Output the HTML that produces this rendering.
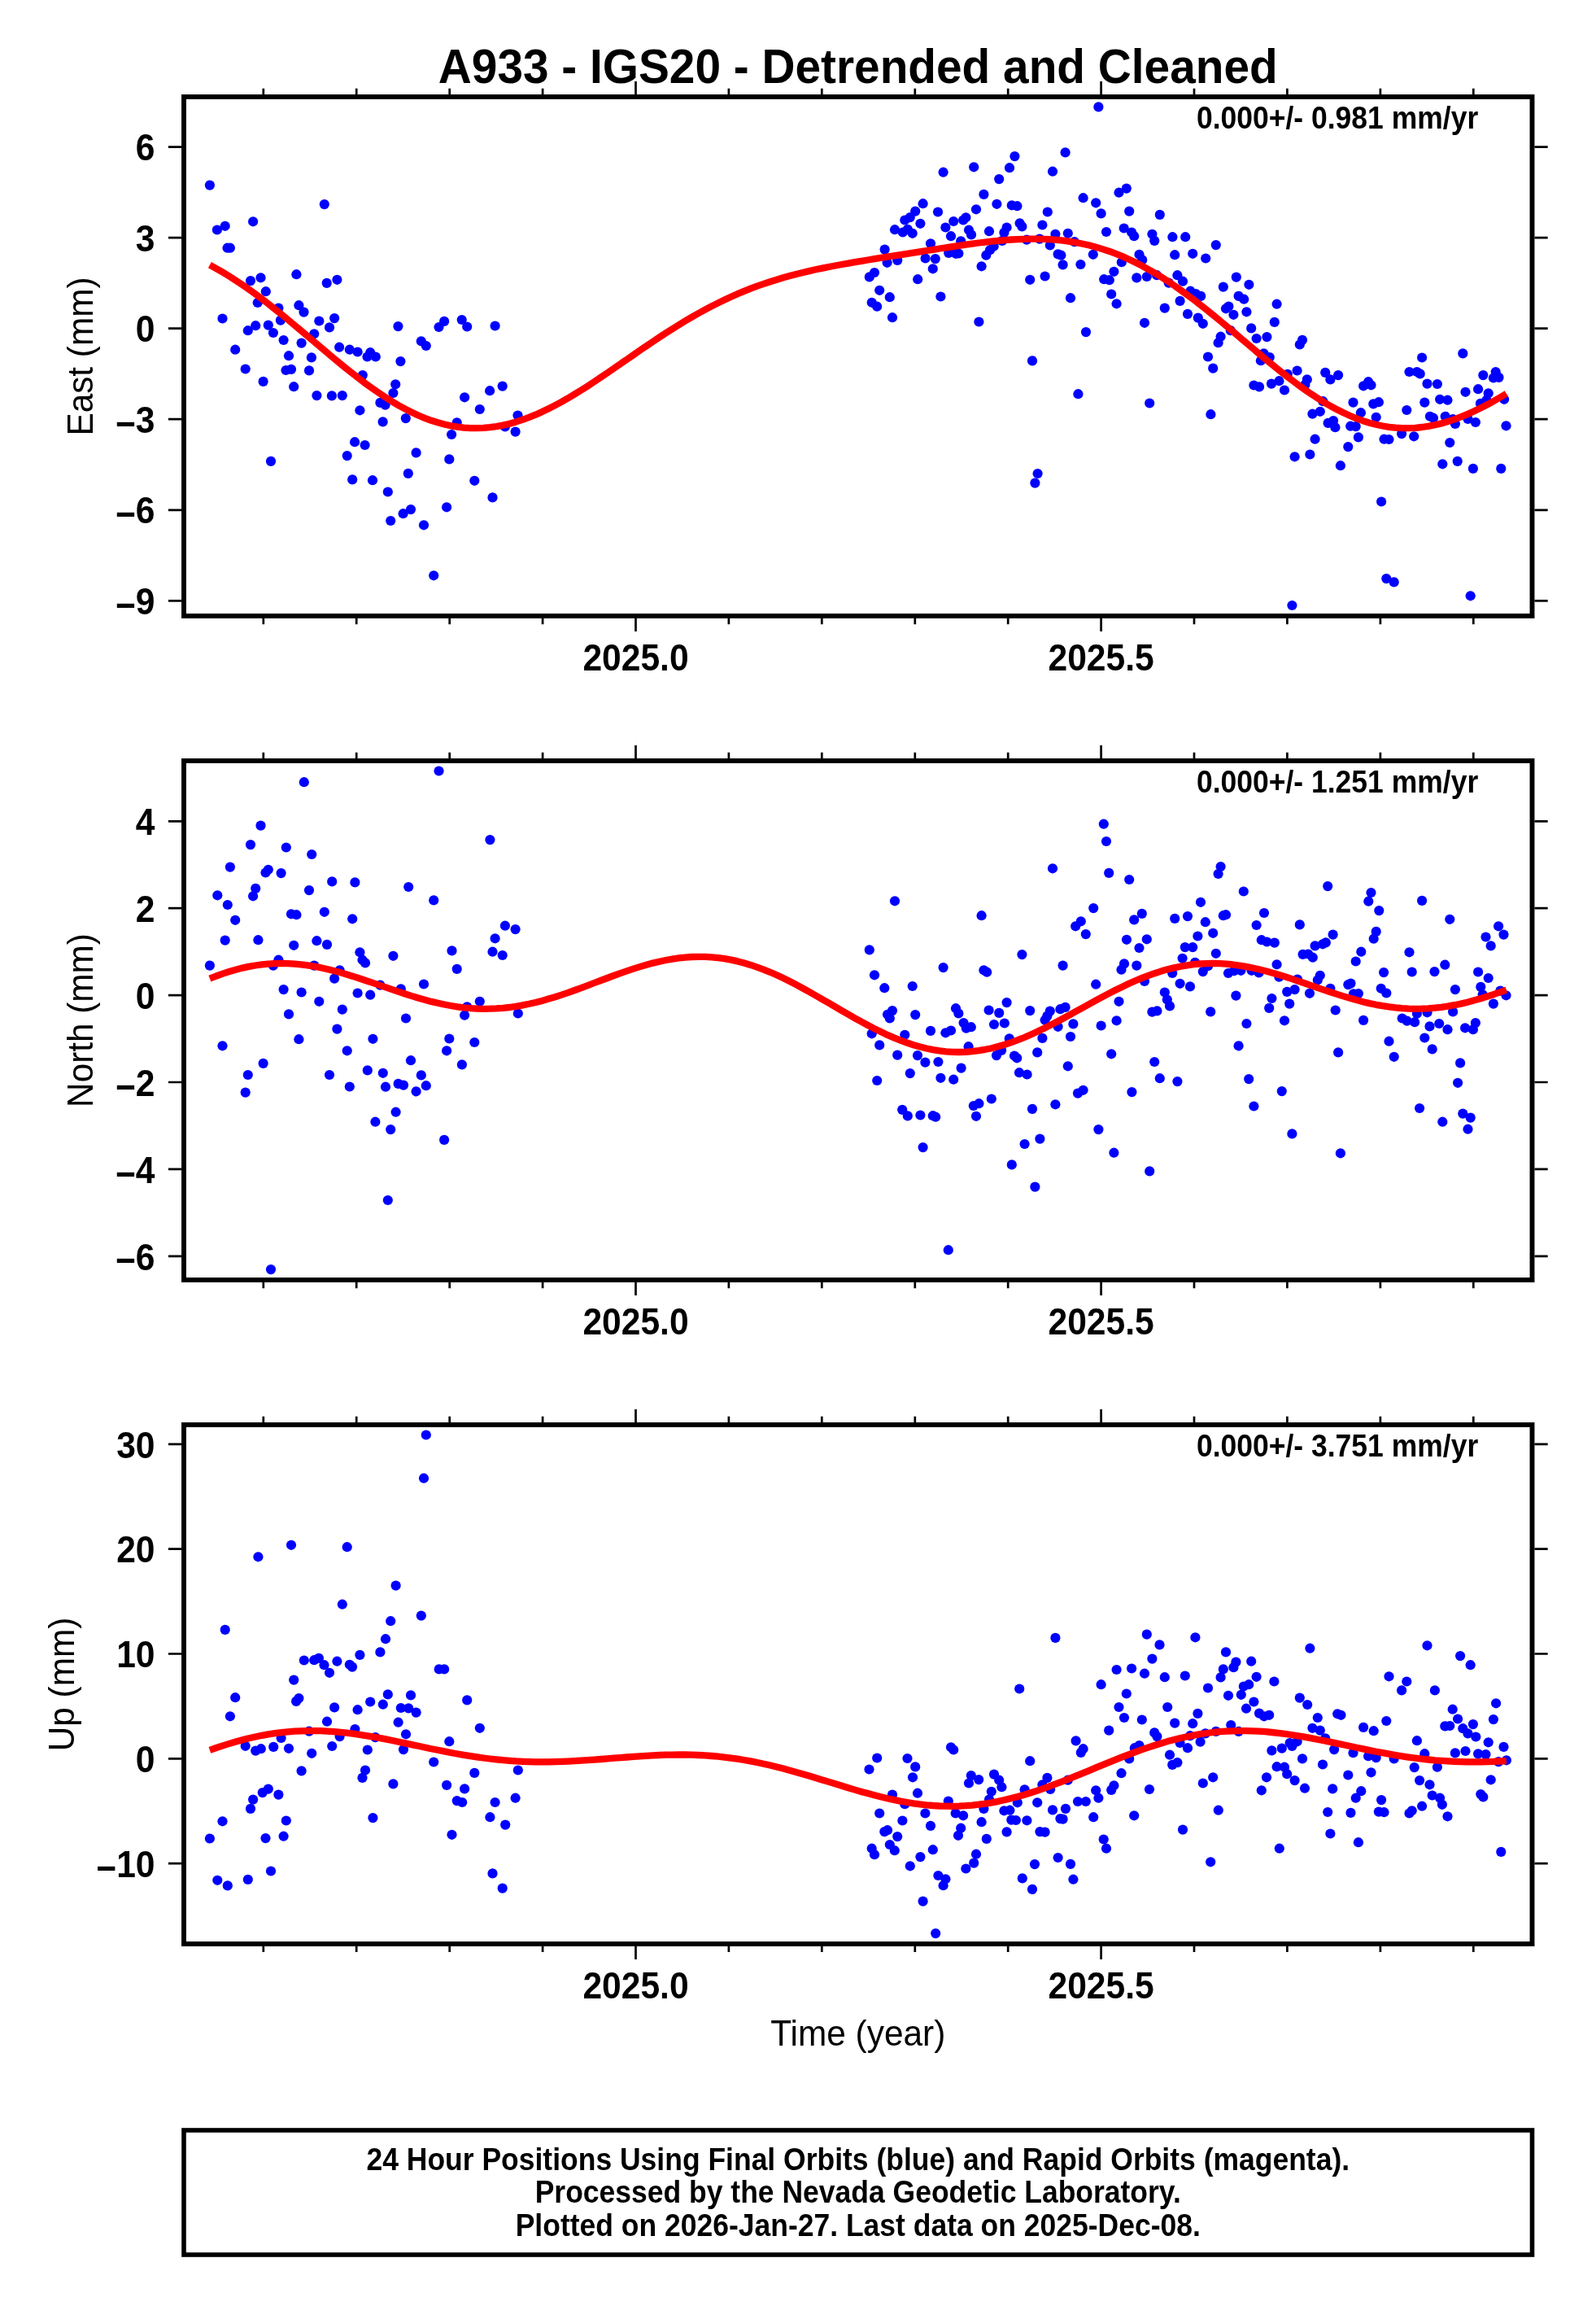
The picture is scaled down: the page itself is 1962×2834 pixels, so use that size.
<!DOCTYPE html><html><head><meta charset="utf-8"><style>html,body{margin:0;padding:0;background:#fff;overflow:hidden;}svg{display:block;will-change:transform;}text{font-family:"Liberation Sans",sans-serif;}</style></head><body>
<svg width="1962" height="2834" viewBox="0 0 1962 2834">
<rect x="0" y="0" width="1962" height="2834" fill="#fff"/>
<text transform="translate(1054.75,102.00) scale(1,1.03)" font-size="56.8" font-weight="bold" text-anchor="middle">A933 - IGS20 - Detrended and Cleaned</text>
<g><circle cx="257.9" cy="227.6" r="6.1" fill="#00f"/><circle cx="398.8" cy="251.1" r="6.1" fill="#00f"/><circle cx="311.1" cy="272.3" r="6.1" fill="#00f"/><circle cx="276.7" cy="277.8" r="6.1" fill="#00f"/><circle cx="266.9" cy="282.5" r="6.1" fill="#00f"/><circle cx="279.5" cy="304.7" r="6.1" fill="#00f"/><circle cx="282.9" cy="304.7" r="6.1" fill="#00f"/><circle cx="364.4" cy="337.2" r="6.1" fill="#00f"/><circle cx="320.5" cy="341.3" r="6.1" fill="#00f"/><circle cx="308.0" cy="345.1" r="6.1" fill="#00f"/><circle cx="414.4" cy="343.8" r="6.1" fill="#00f"/><circle cx="401.7" cy="347.9" r="6.1" fill="#00f"/><circle cx="326.8" cy="358.2" r="6.1" fill="#00f"/><circle cx="316.7" cy="372.0" r="6.1" fill="#00f"/><circle cx="342.4" cy="378.5" r="6.1" fill="#00f"/><circle cx="367.4" cy="375.2" r="6.1" fill="#00f"/><circle cx="373.5" cy="383.6" r="6.1" fill="#00f"/><circle cx="273.5" cy="391.5" r="6.1" fill="#00f"/><circle cx="344.9" cy="393.6" r="6.1" fill="#00f"/><circle cx="392.3" cy="394.5" r="6.1" fill="#00f"/><circle cx="411.1" cy="391.1" r="6.1" fill="#00f"/><circle cx="314.2" cy="400.2" r="6.1" fill="#00f"/><circle cx="304.8" cy="406.2" r="6.1" fill="#00f"/><circle cx="329.8" cy="399.6" r="6.1" fill="#00f"/><circle cx="335.9" cy="409.0" r="6.1" fill="#00f"/><circle cx="405.0" cy="402.4" r="6.1" fill="#00f"/><circle cx="348.6" cy="418.0" r="6.1" fill="#00f"/><circle cx="386.2" cy="410.3" r="6.1" fill="#00f"/><circle cx="370.6" cy="421.6" r="6.1" fill="#00f"/><circle cx="489.4" cy="401.1" r="6.1" fill="#00f"/><circle cx="517.8" cy="419.3" r="6.1" fill="#00f"/><circle cx="523.8" cy="425.0" r="6.1" fill="#00f"/><circle cx="289.2" cy="429.7" r="6.1" fill="#00f"/><circle cx="417.1" cy="426.7" r="6.1" fill="#00f"/><circle cx="429.8" cy="429.7" r="6.1" fill="#00f"/><circle cx="439.6" cy="432.5" r="6.1" fill="#00f"/><circle cx="455.2" cy="433.2" r="6.1" fill="#00f"/><circle cx="451.5" cy="438.5" r="6.1" fill="#00f"/><circle cx="461.8" cy="438.5" r="6.1" fill="#00f"/><circle cx="492.4" cy="444.1" r="6.1" fill="#00f"/><circle cx="355.0" cy="437.2" r="6.1" fill="#00f"/><circle cx="382.9" cy="439.4" r="6.1" fill="#00f"/><circle cx="301.7" cy="453.5" r="6.1" fill="#00f"/><circle cx="351.5" cy="455.0" r="6.1" fill="#00f"/><circle cx="358.0" cy="453.9" r="6.1" fill="#00f"/><circle cx="380.0" cy="455.4" r="6.1" fill="#00f"/><circle cx="445.8" cy="461.1" r="6.1" fill="#00f"/><circle cx="323.6" cy="468.9" r="6.1" fill="#00f"/><circle cx="361.2" cy="475.2" r="6.1" fill="#00f"/><circle cx="486.2" cy="472.3" r="6.1" fill="#00f"/><circle cx="483.4" cy="483.0" r="6.1" fill="#00f"/><circle cx="389.4" cy="486.1" r="6.1" fill="#00f"/><circle cx="407.9" cy="486.4" r="6.1" fill="#00f"/><circle cx="420.8" cy="486.1" r="6.1" fill="#00f"/><circle cx="467.4" cy="494.9" r="6.1" fill="#00f"/><circle cx="473.6" cy="497.7" r="6.1" fill="#00f"/><circle cx="442.4" cy="504.3" r="6.1" fill="#00f"/><circle cx="470.6" cy="518.4" r="6.1" fill="#00f"/><circle cx="498.8" cy="514.1" r="6.1" fill="#00f"/><circle cx="436.1" cy="543.2" r="6.1" fill="#00f"/><circle cx="448.6" cy="547.0" r="6.1" fill="#00f"/><circle cx="426.7" cy="560.1" r="6.1" fill="#00f"/><circle cx="511.6" cy="556.4" r="6.1" fill="#00f"/><circle cx="333.0" cy="566.9" r="6.1" fill="#00f"/><circle cx="433.2" cy="589.4" r="6.1" fill="#00f"/><circle cx="458.0" cy="590.2" r="6.1" fill="#00f"/><circle cx="501.8" cy="581.9" r="6.1" fill="#00f"/><circle cx="476.8" cy="604.5" r="6.1" fill="#00f"/><circle cx="505.0" cy="626.1" r="6.1" fill="#00f"/><circle cx="495.6" cy="631.2" r="6.1" fill="#00f"/><circle cx="480.2" cy="640.0" r="6.1" fill="#00f"/><circle cx="521.0" cy="645.3" r="6.1" fill="#00f"/><circle cx="546.1" cy="394.9" r="6.1" fill="#00f"/><circle cx="539.5" cy="402.0" r="6.1" fill="#00f"/><circle cx="567.7" cy="393.0" r="6.1" fill="#00f"/><circle cx="574.2" cy="401.5" r="6.1" fill="#00f"/><circle cx="608.6" cy="400.5" r="6.1" fill="#00f"/><circle cx="571.1" cy="488.3" r="6.1" fill="#00f"/><circle cx="602.1" cy="480.2" r="6.1" fill="#00f"/><circle cx="617.7" cy="474.6" r="6.1" fill="#00f"/><circle cx="589.8" cy="503.0" r="6.1" fill="#00f"/><circle cx="561.7" cy="519.3" r="6.1" fill="#00f"/><circle cx="555.1" cy="534.0" r="6.1" fill="#00f"/><circle cx="636.5" cy="510.5" r="6.1" fill="#00f"/><circle cx="620.9" cy="524.4" r="6.1" fill="#00f"/><circle cx="633.6" cy="530.6" r="6.1" fill="#00f"/><circle cx="552.3" cy="564.4" r="6.1" fill="#00f"/><circle cx="583.3" cy="590.8" r="6.1" fill="#00f"/><circle cx="605.5" cy="611.4" r="6.1" fill="#00f"/><circle cx="549.1" cy="623.3" r="6.1" fill="#00f"/><circle cx="533.2" cy="707.3" r="6.1" fill="#00f"/><circle cx="1350.4" cy="131.4" r="6.1" fill="#00f"/><circle cx="1309.6" cy="187.4" r="6.1" fill="#00f"/><circle cx="1247.4" cy="192.1" r="6.1" fill="#00f"/><circle cx="1241.0" cy="206.2" r="6.1" fill="#00f"/><circle cx="1197.2" cy="205.3" r="6.1" fill="#00f"/><circle cx="1159.6" cy="211.7" r="6.1" fill="#00f"/><circle cx="1294.0" cy="210.7" r="6.1" fill="#00f"/><circle cx="1228.2" cy="220.1" r="6.1" fill="#00f"/><circle cx="1209.4" cy="238.9" r="6.1" fill="#00f"/><circle cx="1225.4" cy="250.8" r="6.1" fill="#00f"/><circle cx="1243.8" cy="252.3" r="6.1" fill="#00f"/><circle cx="1250.4" cy="253.2" r="6.1" fill="#00f"/><circle cx="1331.6" cy="243.2" r="6.1" fill="#00f"/><circle cx="1347.2" cy="249.3" r="6.1" fill="#00f"/><circle cx="1353.6" cy="262.4" r="6.1" fill="#00f"/><circle cx="1287.8" cy="260.5" r="6.1" fill="#00f"/><circle cx="1200.0" cy="257.3" r="6.1" fill="#00f"/><circle cx="1134.6" cy="250.2" r="6.1" fill="#00f"/><circle cx="1125.2" cy="259.6" r="6.1" fill="#00f"/><circle cx="1118.8" cy="267.1" r="6.1" fill="#00f"/><circle cx="1112.3" cy="270.5" r="6.1" fill="#00f"/><circle cx="1131.4" cy="274.8" r="6.1" fill="#00f"/><circle cx="1100.0" cy="282.2" r="6.1" fill="#00f"/><circle cx="1109.8" cy="285.5" r="6.1" fill="#00f"/><circle cx="1115.8" cy="281.8" r="6.1" fill="#00f"/><circle cx="1121.7" cy="286.8" r="6.1" fill="#00f"/><circle cx="1153.0" cy="260.5" r="6.1" fill="#00f"/><circle cx="1187.4" cy="267.3" r="6.1" fill="#00f"/><circle cx="1184.1" cy="270.5" r="6.1" fill="#00f"/><circle cx="1172.2" cy="272.0" r="6.1" fill="#00f"/><circle cx="1162.4" cy="279.5" r="6.1" fill="#00f"/><circle cx="1169.0" cy="290.2" r="6.1" fill="#00f"/><circle cx="1191.0" cy="282.7" r="6.1" fill="#00f"/><circle cx="1194.0" cy="288.4" r="6.1" fill="#00f"/><circle cx="1181.2" cy="296.4" r="6.1" fill="#00f"/><circle cx="1216.0" cy="284.2" r="6.1" fill="#00f"/><circle cx="1237.6" cy="279.5" r="6.1" fill="#00f"/><circle cx="1234.4" cy="285.9" r="6.1" fill="#00f"/><circle cx="1253.6" cy="274.3" r="6.1" fill="#00f"/><circle cx="1256.4" cy="278.4" r="6.1" fill="#00f"/><circle cx="1281.4" cy="276.5" r="6.1" fill="#00f"/><circle cx="1297.4" cy="287.8" r="6.1" fill="#00f"/><circle cx="1312.8" cy="286.8" r="6.1" fill="#00f"/><circle cx="1144.0" cy="299.3" r="6.1" fill="#00f"/><circle cx="1087.6" cy="306.6" r="6.1" fill="#00f"/><circle cx="1262.1" cy="294.6" r="6.1" fill="#00f"/><circle cx="1278.0" cy="293.6" r="6.1" fill="#00f"/><circle cx="1232.0" cy="295.9" r="6.1" fill="#00f"/><circle cx="1320.9" cy="297.2" r="6.1" fill="#00f"/><circle cx="1290.8" cy="301.5" r="6.1" fill="#00f"/><circle cx="1221.7" cy="302.8" r="6.1" fill="#00f"/><circle cx="1217.0" cy="307.2" r="6.1" fill="#00f"/><circle cx="1212.3" cy="313.7" r="6.1" fill="#00f"/><circle cx="1166.2" cy="310.9" r="6.1" fill="#00f"/><circle cx="1175.0" cy="311.8" r="6.1" fill="#00f"/><circle cx="1178.4" cy="311.5" r="6.1" fill="#00f"/><circle cx="1137.6" cy="317.5" r="6.1" fill="#00f"/><circle cx="1149.8" cy="318.1" r="6.1" fill="#00f"/><circle cx="1090.6" cy="322.8" r="6.1" fill="#00f"/><circle cx="1103.2" cy="319.9" r="6.1" fill="#00f"/><circle cx="1343.8" cy="312.8" r="6.1" fill="#00f"/><circle cx="1300.6" cy="312.4" r="6.1" fill="#00f"/><circle cx="1304.4" cy="313.7" r="6.1" fill="#00f"/><circle cx="1306.6" cy="325.4" r="6.1" fill="#00f"/><circle cx="1328.4" cy="325.0" r="6.1" fill="#00f"/><circle cx="1206.6" cy="327.3" r="6.1" fill="#00f"/><circle cx="1146.8" cy="330.3" r="6.1" fill="#00f"/><circle cx="1075.0" cy="335.0" r="6.1" fill="#00f"/><circle cx="1068.8" cy="340.4" r="6.1" fill="#00f"/><circle cx="1128.2" cy="343.2" r="6.1" fill="#00f"/><circle cx="1266.2" cy="343.8" r="6.1" fill="#00f"/><circle cx="1284.6" cy="339.5" r="6.1" fill="#00f"/><circle cx="1384.8" cy="231.6" r="6.1" fill="#00f"/><circle cx="1375.5" cy="236.7" r="6.1" fill="#00f"/><circle cx="1388.2" cy="259.6" r="6.1" fill="#00f"/><circle cx="1425.8" cy="263.9" r="6.1" fill="#00f"/><circle cx="1360.0" cy="285.0" r="6.1" fill="#00f"/><circle cx="1381.7" cy="280.5" r="6.1" fill="#00f"/><circle cx="1391.1" cy="285.5" r="6.1" fill="#00f"/><circle cx="1394.2" cy="290.2" r="6.1" fill="#00f"/><circle cx="1416.4" cy="287.8" r="6.1" fill="#00f"/><circle cx="1419.2" cy="295.9" r="6.1" fill="#00f"/><circle cx="1441.4" cy="291.2" r="6.1" fill="#00f"/><circle cx="1457.2" cy="291.2" r="6.1" fill="#00f"/><circle cx="1494.8" cy="301.1" r="6.1" fill="#00f"/><circle cx="1400.5" cy="312.8" r="6.1" fill="#00f"/><circle cx="1404.2" cy="319.4" r="6.1" fill="#00f"/><circle cx="1444.2" cy="313.2" r="6.1" fill="#00f"/><circle cx="1466.2" cy="311.8" r="6.1" fill="#00f"/><circle cx="1482.2" cy="317.5" r="6.1" fill="#00f"/><circle cx="1378.8" cy="322.2" r="6.1" fill="#00f"/><circle cx="1369.4" cy="333.8" r="6.1" fill="#00f"/><circle cx="1357.2" cy="343.2" r="6.1" fill="#00f"/><circle cx="1363.8" cy="344.2" r="6.1" fill="#00f"/><circle cx="1397.3" cy="341.4" r="6.1" fill="#00f"/><circle cx="1409.8" cy="340.0" r="6.1" fill="#00f"/><circle cx="1422.1" cy="338.2" r="6.1" fill="#00f"/><circle cx="1436.7" cy="347.6" r="6.1" fill="#00f"/><circle cx="1447.4" cy="338.2" r="6.1" fill="#00f"/><circle cx="1454.0" cy="345.7" r="6.1" fill="#00f"/><circle cx="1519.8" cy="340.6" r="6.1" fill="#00f"/><circle cx="1535.4" cy="349.8" r="6.1" fill="#00f"/><circle cx="1503.8" cy="352.6" r="6.1" fill="#00f"/><circle cx="1081.2" cy="356.8" r="6.1" fill="#00f"/><circle cx="1093.8" cy="365.2" r="6.1" fill="#00f"/><circle cx="1071.7" cy="371.8" r="6.1" fill="#00f"/><circle cx="1078.2" cy="376.7" r="6.1" fill="#00f"/><circle cx="1097.0" cy="390.2" r="6.1" fill="#00f"/><circle cx="1156.4" cy="364.5" r="6.1" fill="#00f"/><circle cx="1203.4" cy="395.5" r="6.1" fill="#00f"/><circle cx="1316.0" cy="366.2" r="6.1" fill="#00f"/><circle cx="1335.0" cy="408.1" r="6.1" fill="#00f"/><circle cx="1269.0" cy="443.4" r="6.1" fill="#00f"/><circle cx="1325.4" cy="484.2" r="6.1" fill="#00f"/><circle cx="1275.6" cy="582.0" r="6.1" fill="#00f"/><circle cx="1366.2" cy="361.5" r="6.1" fill="#00f"/><circle cx="1372.6" cy="373.3" r="6.1" fill="#00f"/><circle cx="1431.8" cy="378.6" r="6.1" fill="#00f"/><circle cx="1407.0" cy="396.8" r="6.1" fill="#00f"/><circle cx="1450.6" cy="369.9" r="6.1" fill="#00f"/><circle cx="1463.4" cy="357.7" r="6.1" fill="#00f"/><circle cx="1470.0" cy="361.1" r="6.1" fill="#00f"/><circle cx="1476.2" cy="363.9" r="6.1" fill="#00f"/><circle cx="1460.0" cy="385.9" r="6.1" fill="#00f"/><circle cx="1472.8" cy="390.6" r="6.1" fill="#00f"/><circle cx="1478.8" cy="397.8" r="6.1" fill="#00f"/><circle cx="1522.6" cy="363.9" r="6.1" fill="#00f"/><circle cx="1529.2" cy="367.7" r="6.1" fill="#00f"/><circle cx="1507.0" cy="379.3" r="6.1" fill="#00f"/><circle cx="1510.4" cy="376.5" r="6.1" fill="#00f"/><circle cx="1516.4" cy="386.8" r="6.1" fill="#00f"/><circle cx="1532.4" cy="383.3" r="6.1" fill="#00f"/><circle cx="1569.6" cy="373.7" r="6.1" fill="#00f"/><circle cx="1566.8" cy="395.9" r="6.1" fill="#00f"/><circle cx="1538.2" cy="403.4" r="6.1" fill="#00f"/><circle cx="1544.6" cy="416.0" r="6.1" fill="#00f"/><circle cx="1557.4" cy="414.1" r="6.1" fill="#00f"/><circle cx="1512.9" cy="406.2" r="6.1" fill="#00f"/><circle cx="1500.6" cy="413.7" r="6.1" fill="#00f"/><circle cx="1497.6" cy="421.2" r="6.1" fill="#00f"/><circle cx="1485.0" cy="438.5" r="6.1" fill="#00f"/><circle cx="1491.2" cy="452.6" r="6.1" fill="#00f"/><circle cx="1553.6" cy="434.4" r="6.1" fill="#00f"/><circle cx="1560.8" cy="439.1" r="6.1" fill="#00f"/><circle cx="1549.9" cy="443.2" r="6.1" fill="#00f"/><circle cx="1601.0" cy="417.9" r="6.1" fill="#00f"/><circle cx="1597.8" cy="423.5" r="6.1" fill="#00f"/><circle cx="1594.6" cy="455.5" r="6.1" fill="#00f"/><circle cx="1582.8" cy="459.8" r="6.1" fill="#00f"/><circle cx="1606.8" cy="466.4" r="6.1" fill="#00f"/><circle cx="1604.4" cy="472.9" r="6.1" fill="#00f"/><circle cx="1572.4" cy="468.2" r="6.1" fill="#00f"/><circle cx="1563.0" cy="471.6" r="6.1" fill="#00f"/><circle cx="1579.0" cy="479.5" r="6.1" fill="#00f"/><circle cx="1541.4" cy="473.5" r="6.1" fill="#00f"/><circle cx="1548.0" cy="475.4" r="6.1" fill="#00f"/><circle cx="1629.2" cy="457.9" r="6.1" fill="#00f"/><circle cx="1635.4" cy="466.4" r="6.1" fill="#00f"/><circle cx="1626.4" cy="493.2" r="6.1" fill="#00f"/><circle cx="1613.4" cy="508.7" r="6.1" fill="#00f"/><circle cx="1622.8" cy="505.8" r="6.1" fill="#00f"/><circle cx="1632.6" cy="519.9" r="6.1" fill="#00f"/><circle cx="1413.2" cy="495.5" r="6.1" fill="#00f"/><circle cx="1488.4" cy="509.2" r="6.1" fill="#00f"/><circle cx="1616.6" cy="539.7" r="6.1" fill="#00f"/><circle cx="1591.6" cy="561.3" r="6.1" fill="#00f"/><circle cx="1610.4" cy="558.5" r="6.1" fill="#00f"/><circle cx="1645.1" cy="461.1" r="6.1" fill="#00f"/><circle cx="1639.1" cy="517.1" r="6.1" fill="#00f"/><circle cx="1641.4" cy="525.2" r="6.1" fill="#00f"/><circle cx="1647.9" cy="572.2" r="6.1" fill="#00f"/><circle cx="1663.5" cy="494.6" r="6.1" fill="#00f"/><circle cx="1672.9" cy="507.2" r="6.1" fill="#00f"/><circle cx="1676.1" cy="474.3" r="6.1" fill="#00f"/><circle cx="1682.1" cy="469.2" r="6.1" fill="#00f"/><circle cx="1685.5" cy="473.3" r="6.1" fill="#00f"/><circle cx="1688.3" cy="496.4" r="6.1" fill="#00f"/><circle cx="1694.9" cy="494.2" r="6.1" fill="#00f"/><circle cx="1691.7" cy="512.8" r="6.1" fill="#00f"/><circle cx="1660.2" cy="523.7" r="6.1" fill="#00f"/><circle cx="1666.7" cy="524.1" r="6.1" fill="#00f"/><circle cx="1669.9" cy="537.4" r="6.1" fill="#00f"/><circle cx="1657.3" cy="549.1" r="6.1" fill="#00f"/><circle cx="1701.5" cy="539.7" r="6.1" fill="#00f"/><circle cx="1707.5" cy="540.0" r="6.1" fill="#00f"/><circle cx="1723.1" cy="533.1" r="6.1" fill="#00f"/><circle cx="1738.2" cy="536.3" r="6.1" fill="#00f"/><circle cx="1729.3" cy="504.0" r="6.1" fill="#00f"/><circle cx="1732.5" cy="457.0" r="6.1" fill="#00f"/><circle cx="1741.9" cy="457.0" r="6.1" fill="#00f"/><circle cx="1745.7" cy="459.4" r="6.1" fill="#00f"/><circle cx="1748.1" cy="439.5" r="6.1" fill="#00f"/><circle cx="1754.5" cy="471.6" r="6.1" fill="#00f"/><circle cx="1766.9" cy="472.0" r="6.1" fill="#00f"/><circle cx="1751.3" cy="494.6" r="6.1" fill="#00f"/><circle cx="1770.1" cy="490.8" r="6.1" fill="#00f"/><circle cx="1779.5" cy="491.7" r="6.1" fill="#00f"/><circle cx="1757.9" cy="511.8" r="6.1" fill="#00f"/><circle cx="1762.0" cy="513.7" r="6.1" fill="#00f"/><circle cx="1776.7" cy="511.8" r="6.1" fill="#00f"/><circle cx="1786.1" cy="515.2" r="6.1" fill="#00f"/><circle cx="1788.9" cy="520.9" r="6.1" fill="#00f"/><circle cx="1798.3" cy="434.4" r="6.1" fill="#00f"/><circle cx="1801.5" cy="481.8" r="6.1" fill="#00f"/><circle cx="1817.1" cy="478.2" r="6.1" fill="#00f"/><circle cx="1823.3" cy="461.1" r="6.1" fill="#00f"/><circle cx="1838.7" cy="457.0" r="6.1" fill="#00f"/><circle cx="1835.9" cy="464.5" r="6.1" fill="#00f"/><circle cx="1842.5" cy="463.9" r="6.1" fill="#00f"/><circle cx="1829.7" cy="483.3" r="6.1" fill="#00f"/><circle cx="1819.9" cy="495.9" r="6.1" fill="#00f"/><circle cx="1827.4" cy="491.7" r="6.1" fill="#00f"/><circle cx="1849.1" cy="490.8" r="6.1" fill="#00f"/><circle cx="1804.5" cy="514.9" r="6.1" fill="#00f"/><circle cx="1813.9" cy="519.0" r="6.1" fill="#00f"/><circle cx="1851.5" cy="523.3" r="6.1" fill="#00f"/><circle cx="1782.3" cy="544.0" r="6.1" fill="#00f"/><circle cx="1773.3" cy="570.3" r="6.1" fill="#00f"/><circle cx="1791.7" cy="566.9" r="6.1" fill="#00f"/><circle cx="1810.9" cy="575.9" r="6.1" fill="#00f"/><circle cx="1845.3" cy="575.9" r="6.1" fill="#00f"/><circle cx="1272.4" cy="593.6" r="6.1" fill="#00f"/><circle cx="1588.4" cy="744.0" r="6.1" fill="#00f"/><circle cx="1698.1" cy="616.5" r="6.1" fill="#00f"/><circle cx="1704.3" cy="711.1" r="6.1" fill="#00f"/><circle cx="1713.7" cy="715.4" r="6.1" fill="#00f"/><circle cx="1807.7" cy="732.3" r="6.1" fill="#00f"/><path d="M257.9,325.7 L265.9,330.1 L273.9,334.7 L281.9,339.5 L289.9,344.7 L298.0,350.0 L306.0,355.6 L314.0,361.4 L322.0,367.4 L330.0,373.5 L338.0,379.9 L346.0,386.3 L354.0,392.9 L362.0,399.6 L370.0,406.3 L378.1,413.1 L386.1,419.9 L394.1,426.7 L402.1,433.4 L410.1,440.1 L418.1,446.8 L426.1,453.3 L434.1,459.6 L442.1,465.8 L450.1,471.9 L458.2,477.7 L466.2,483.2 L474.2,488.5 L482.2,493.6 L490.2,498.3 L498.2,502.7 L506.2,506.7 L514.2,510.5 L522.2,513.8 L530.2,516.8 L538.3,519.3 L546.3,521.5 L554.3,523.3 L562.3,524.6 L570.3,525.6 L578.3,526.1 L586.3,526.2 L594.3,525.9 L602.3,525.2 L610.3,524.1 L618.4,522.6 L626.4,520.7 L634.4,518.4 L642.4,515.8 L650.4,512.9 L658.4,509.7 L666.4,506.1 L674.4,502.2 L682.4,498.1 L690.4,493.8 L698.5,489.2 L706.5,484.4 L714.5,479.5 L722.5,474.4 L730.5,469.1 L738.5,463.8 L746.5,458.4 L754.5,452.9 L762.5,447.3 L770.5,441.8 L778.6,436.3 L786.6,430.7 L794.6,425.3 L802.6,419.9 L810.6,414.5 L818.6,409.3 L826.6,404.2 L834.6,399.2 L842.6,394.3 L850.6,389.6 L858.7,385.0 L866.7,380.6 L874.7,376.4 L882.7,372.4 L890.7,368.5 L898.7,364.8 L906.7,361.2 L914.7,357.9 L922.7,354.7 L930.7,351.7 L938.8,348.9 L946.8,346.2 L954.8,343.7 L962.8,341.3 L970.8,339.1 L978.8,337.0 L986.8,335.0 L994.8,333.1 L1002.8,331.3 L1010.8,329.6 L1018.9,328.0 L1026.9,326.5 L1034.9,325.0 L1042.9,323.6 L1050.9,322.2 L1058.9,320.8 L1066.9,319.5 L1074.9,318.2 L1082.9,316.9 L1090.9,315.7 L1099.0,314.4 L1107.0,313.1 L1115.0,311.8 L1123.0,310.6 L1131.0,309.3 L1139.0,308.0 L1147.0,306.8 L1155.0,305.5 L1163.0,304.3 L1171.0,303.1 L1179.1,301.9 L1187.1,300.7 L1195.1,299.6 L1203.1,298.5 L1211.1,297.6 L1219.1,296.7 L1227.1,295.8 L1235.1,295.1 L1243.1,294.5 L1251.1,294.1 L1259.2,293.8 L1267.2,293.6 L1275.2,293.6 L1283.2,293.8 L1291.2,294.2 L1299.2,294.9 L1307.2,295.7 L1315.2,296.8 L1323.2,298.1 L1331.2,299.7 L1339.3,301.5 L1347.3,303.7 L1355.3,306.1 L1363.3,308.7 L1371.3,311.7 L1379.3,314.9 L1387.3,318.5 L1395.3,322.3 L1403.3,326.4 L1411.3,330.8 L1419.4,335.4 L1427.4,340.3 L1435.4,345.5 L1443.4,350.9 L1451.4,356.5 L1459.4,362.3 L1467.4,368.3 L1475.4,374.5 L1483.4,380.8 L1491.4,387.3 L1499.5,393.9 L1507.5,400.6 L1515.5,407.3 L1523.5,414.1 L1531.5,420.9 L1539.5,427.7 L1547.5,434.5 L1555.5,441.2 L1563.5,447.8 L1571.5,454.3 L1579.6,460.6 L1587.6,466.8 L1595.6,472.8 L1603.6,478.5 L1611.6,484.1 L1619.6,489.3 L1627.6,494.3 L1635.6,499.0 L1643.6,503.3 L1651.6,507.3 L1659.7,511.0 L1667.7,514.3 L1675.7,517.2 L1683.7,519.7 L1691.7,521.8 L1699.7,523.5 L1707.7,524.8 L1715.7,525.7 L1723.7,526.1 L1731.7,526.2 L1739.8,525.8 L1747.8,525.0 L1755.8,523.9 L1763.8,522.3 L1771.8,520.4 L1779.8,518.1 L1787.8,515.4 L1795.8,512.4 L1803.8,509.1 L1811.8,505.5 L1819.9,501.6 L1827.9,497.5 L1835.9,493.1 L1843.9,488.5 L1851.9,483.7" fill="none" stroke="#f00" stroke-width="8.3" stroke-linejoin="round" stroke-linecap="butt"/></g>
<rect x="226.0" y="119.0" width="1657.5" height="638.0" fill="none" stroke="#000" stroke-width="5.9"/>
<path d="M323.8,116.0V108.8M323.8,760.0V767.2M438.2,116.0V108.8M438.2,760.0V767.2M552.7,116.0V108.8M552.7,760.0V767.2M667.1,116.0V108.8M667.1,760.0V767.2M781.5,116.0V100.0M781.5,760.0V776.0M895.9,116.0V108.8M895.9,760.0V767.2M1010.3,116.0V108.8M1010.3,760.0V767.2M1124.8,116.0V108.8M1124.8,760.0V767.2M1239.2,116.0V108.8M1239.2,760.0V767.2M1353.6,116.0V100.0M1353.6,760.0V776.0M1468.0,116.0V108.8M1468.0,760.0V767.2M1582.4,116.0V108.8M1582.4,760.0V767.2M1696.9,116.0V108.8M1696.9,760.0V767.2M1811.3,116.0V108.8M1811.3,760.0V767.2M223.1,180.6H206.9M1886.5,180.6H1902.7M223.1,292.2H206.9M1886.5,292.2H1902.7M223.1,403.7H206.9M1886.5,403.7H1902.7M223.1,515.2H206.9M1886.5,515.2H1902.7M223.1,626.8H206.9M1886.5,626.8H1902.7M223.1,738.3H206.9M1886.5,738.3H1902.7" stroke="#000" stroke-width="2.7" fill="none"/>
<text transform="translate(190.50,197.32) scale(1,1.1)" font-size="42.6" font-weight="bold" text-anchor="end">6</text>
<text transform="translate(190.50,308.86) scale(1,1.1)" font-size="42.6" font-weight="bold" text-anchor="end">3</text>
<text transform="translate(190.50,420.40) scale(1,1.1)" font-size="42.6" font-weight="bold" text-anchor="end">0</text>
<text transform="translate(190.50,531.94) scale(1,1.1)" font-size="42.6" font-weight="bold" text-anchor="end"><tspan dy="4.5">−</tspan><tspan dy="-4.5">3</tspan></text>
<text transform="translate(190.50,643.48) scale(1,1.1)" font-size="42.6" font-weight="bold" text-anchor="end"><tspan dy="4.5">−</tspan><tspan dy="-4.5">6</tspan></text>
<text transform="translate(190.50,755.02) scale(1,1.1)" font-size="42.6" font-weight="bold" text-anchor="end"><tspan dy="4.5">−</tspan><tspan dy="-4.5">9</tspan></text>
<text transform="translate(781.50,823.60) scale(1,1.1)" font-size="42.6" font-weight="bold" text-anchor="middle">2025.0</text>
<text transform="translate(1353.60,823.60) scale(1,1.1)" font-size="42.6" font-weight="bold" text-anchor="middle">2025.5</text>
<text transform="translate(114.00,438.00) rotate(-90) scale(1,1.055)" font-size="42.3" text-anchor="middle">East (mm)</text>
<text transform="translate(1470.90,157.60) scale(1,1.11)" font-size="35.5" font-weight="bold">0.000+/- 0.981 mm/yr</text>
<g><circle cx="373.8" cy="961.2" r="6.1" fill="#00f"/><circle cx="320.5" cy="1014.6" r="6.1" fill="#00f"/><circle cx="308.0" cy="1038.1" r="6.1" fill="#00f"/><circle cx="351.8" cy="1041.5" r="6.1" fill="#00f"/><circle cx="383.2" cy="1050.0" r="6.1" fill="#00f"/><circle cx="282.9" cy="1065.6" r="6.1" fill="#00f"/><circle cx="326.5" cy="1072.5" r="6.1" fill="#00f"/><circle cx="329.8" cy="1068.8" r="6.1" fill="#00f"/><circle cx="345.6" cy="1073.1" r="6.1" fill="#00f"/><circle cx="408.2" cy="1083.4" r="6.1" fill="#00f"/><circle cx="436.4" cy="1084.4" r="6.1" fill="#00f"/><circle cx="502.2" cy="1090.0" r="6.1" fill="#00f"/><circle cx="533.2" cy="1106.4" r="6.1" fill="#00f"/><circle cx="314.2" cy="1091.9" r="6.1" fill="#00f"/><circle cx="311.1" cy="1101.3" r="6.1" fill="#00f"/><circle cx="267.3" cy="1100.3" r="6.1" fill="#00f"/><circle cx="380.0" cy="1094.1" r="6.1" fill="#00f"/><circle cx="279.8" cy="1112.0" r="6.1" fill="#00f"/><circle cx="358.0" cy="1123.3" r="6.1" fill="#00f"/><circle cx="364.4" cy="1124.2" r="6.1" fill="#00f"/><circle cx="398.8" cy="1120.8" r="6.1" fill="#00f"/><circle cx="433.2" cy="1129.3" r="6.1" fill="#00f"/><circle cx="289.2" cy="1130.8" r="6.1" fill="#00f"/><circle cx="276.7" cy="1155.6" r="6.1" fill="#00f"/><circle cx="317.4" cy="1155.2" r="6.1" fill="#00f"/><circle cx="361.2" cy="1161.8" r="6.1" fill="#00f"/><circle cx="389.4" cy="1156.2" r="6.1" fill="#00f"/><circle cx="402.0" cy="1160.9" r="6.1" fill="#00f"/><circle cx="442.4" cy="1170.3" r="6.1" fill="#00f"/><circle cx="483.4" cy="1174.8" r="6.1" fill="#00f"/><circle cx="445.5" cy="1179.7" r="6.1" fill="#00f"/><circle cx="449.0" cy="1183.4" r="6.1" fill="#00f"/><circle cx="257.9" cy="1186.6" r="6.1" fill="#00f"/><circle cx="342.4" cy="1179.7" r="6.1" fill="#00f"/><circle cx="335.9" cy="1186.6" r="6.1" fill="#00f"/><circle cx="386.2" cy="1186.6" r="6.1" fill="#00f"/><circle cx="417.6" cy="1192.3" r="6.1" fill="#00f"/><circle cx="411.1" cy="1202.6" r="6.1" fill="#00f"/><circle cx="467.4" cy="1210.7" r="6.1" fill="#00f"/><circle cx="492.8" cy="1215.4" r="6.1" fill="#00f"/><circle cx="521.0" cy="1209.5" r="6.1" fill="#00f"/><circle cx="348.6" cy="1216.1" r="6.1" fill="#00f"/><circle cx="370.6" cy="1219.5" r="6.1" fill="#00f"/><circle cx="392.3" cy="1230.8" r="6.1" fill="#00f"/><circle cx="439.6" cy="1220.5" r="6.1" fill="#00f"/><circle cx="455.2" cy="1222.7" r="6.1" fill="#00f"/><circle cx="420.8" cy="1240.6" r="6.1" fill="#00f"/><circle cx="355.0" cy="1246.4" r="6.1" fill="#00f"/><circle cx="499.0" cy="1251.5" r="6.1" fill="#00f"/><circle cx="414.4" cy="1264.6" r="6.1" fill="#00f"/><circle cx="367.4" cy="1277.2" r="6.1" fill="#00f"/><circle cx="458.4" cy="1276.8" r="6.1" fill="#00f"/><circle cx="273.5" cy="1285.3" r="6.1" fill="#00f"/><circle cx="426.7" cy="1291.3" r="6.1" fill="#00f"/><circle cx="505.0" cy="1303.2" r="6.1" fill="#00f"/><circle cx="323.6" cy="1306.9" r="6.1" fill="#00f"/><circle cx="304.8" cy="1321.0" r="6.1" fill="#00f"/><circle cx="405.0" cy="1321.0" r="6.1" fill="#00f"/><circle cx="451.8" cy="1315.4" r="6.1" fill="#00f"/><circle cx="470.8" cy="1318.8" r="6.1" fill="#00f"/><circle cx="517.8" cy="1321.4" r="6.1" fill="#00f"/><circle cx="429.8" cy="1335.5" r="6.1" fill="#00f"/><circle cx="474.0" cy="1335.7" r="6.1" fill="#00f"/><circle cx="489.6" cy="1331.9" r="6.1" fill="#00f"/><circle cx="496.0" cy="1333.6" r="6.1" fill="#00f"/><circle cx="523.8" cy="1334.2" r="6.1" fill="#00f"/><circle cx="511.6" cy="1341.3" r="6.1" fill="#00f"/><circle cx="301.7" cy="1342.6" r="6.1" fill="#00f"/><circle cx="486.6" cy="1366.7" r="6.1" fill="#00f"/><circle cx="461.4" cy="1378.7" r="6.1" fill="#00f"/><circle cx="480.2" cy="1388.1" r="6.1" fill="#00f"/><circle cx="476.8" cy="1475.0" r="6.1" fill="#00f"/><circle cx="333.0" cy="1560.1" r="6.1" fill="#00f"/><circle cx="539.5" cy="947.5" r="6.1" fill="#00f"/><circle cx="602.4" cy="1032.1" r="6.1" fill="#00f"/><circle cx="620.9" cy="1137.7" r="6.1" fill="#00f"/><circle cx="633.6" cy="1142.1" r="6.1" fill="#00f"/><circle cx="608.6" cy="1153.3" r="6.1" fill="#00f"/><circle cx="555.5" cy="1168.4" r="6.1" fill="#00f"/><circle cx="605.5" cy="1169.7" r="6.1" fill="#00f"/><circle cx="617.7" cy="1174.0" r="6.1" fill="#00f"/><circle cx="561.7" cy="1190.9" r="6.1" fill="#00f"/><circle cx="589.8" cy="1230.8" r="6.1" fill="#00f"/><circle cx="574.2" cy="1237.4" r="6.1" fill="#00f"/><circle cx="571.1" cy="1247.7" r="6.1" fill="#00f"/><circle cx="636.8" cy="1245.5" r="6.1" fill="#00f"/><circle cx="552.3" cy="1276.5" r="6.1" fill="#00f"/><circle cx="583.3" cy="1281.0" r="6.1" fill="#00f"/><circle cx="549.1" cy="1291.3" r="6.1" fill="#00f"/><circle cx="567.9" cy="1308.4" r="6.1" fill="#00f"/><circle cx="546.1" cy="1400.9" r="6.1" fill="#00f"/><circle cx="1294.0" cy="1067.3" r="6.1" fill="#00f"/><circle cx="1100.0" cy="1107.3" r="6.1" fill="#00f"/><circle cx="1206.6" cy="1125.2" r="6.1" fill="#00f"/><circle cx="1344.2" cy="1116.1" r="6.1" fill="#00f"/><circle cx="1328.8" cy="1132.3" r="6.1" fill="#00f"/><circle cx="1322.2" cy="1138.3" r="6.1" fill="#00f"/><circle cx="1334.8" cy="1148.1" r="6.1" fill="#00f"/><circle cx="1068.8" cy="1167.4" r="6.1" fill="#00f"/><circle cx="1256.4" cy="1173.1" r="6.1" fill="#00f"/><circle cx="1159.6" cy="1189.1" r="6.1" fill="#00f"/><circle cx="1075.0" cy="1198.3" r="6.1" fill="#00f"/><circle cx="1087.3" cy="1214.2" r="6.1" fill="#00f"/><circle cx="1121.7" cy="1212.0" r="6.1" fill="#00f"/><circle cx="1209.4" cy="1192.3" r="6.1" fill="#00f"/><circle cx="1213.2" cy="1194.7" r="6.1" fill="#00f"/><circle cx="1306.6" cy="1186.6" r="6.1" fill="#00f"/><circle cx="1347.2" cy="1209.7" r="6.1" fill="#00f"/><circle cx="1237.6" cy="1232.1" r="6.1" fill="#00f"/><circle cx="1097.0" cy="1242.1" r="6.1" fill="#00f"/><circle cx="1091.0" cy="1246.8" r="6.1" fill="#00f"/><circle cx="1093.8" cy="1251.5" r="6.1" fill="#00f"/><circle cx="1125.2" cy="1247.1" r="6.1" fill="#00f"/><circle cx="1175.0" cy="1239.2" r="6.1" fill="#00f"/><circle cx="1178.4" cy="1245.5" r="6.1" fill="#00f"/><circle cx="1215.6" cy="1241.5" r="6.1" fill="#00f"/><circle cx="1228.2" cy="1244.9" r="6.1" fill="#00f"/><circle cx="1266.2" cy="1242.1" r="6.1" fill="#00f"/><circle cx="1290.8" cy="1242.6" r="6.1" fill="#00f"/><circle cx="1287.4" cy="1248.6" r="6.1" fill="#00f"/><circle cx="1284.6" cy="1253.7" r="6.1" fill="#00f"/><circle cx="1303.4" cy="1240.2" r="6.1" fill="#00f"/><circle cx="1309.6" cy="1237.9" r="6.1" fill="#00f"/><circle cx="1222.0" cy="1259.0" r="6.1" fill="#00f"/><circle cx="1234.8" cy="1257.5" r="6.1" fill="#00f"/><circle cx="1184.6" cy="1257.1" r="6.1" fill="#00f"/><circle cx="1187.8" cy="1263.7" r="6.1" fill="#00f"/><circle cx="1193.8" cy="1262.2" r="6.1" fill="#00f"/><circle cx="1144.0" cy="1266.9" r="6.1" fill="#00f"/><circle cx="1162.4" cy="1269.3" r="6.1" fill="#00f"/><circle cx="1169.0" cy="1266.5" r="6.1" fill="#00f"/><circle cx="1112.3" cy="1271.8" r="6.1" fill="#00f"/><circle cx="1071.7" cy="1270.3" r="6.1" fill="#00f"/><circle cx="1319.4" cy="1258.4" r="6.1" fill="#00f"/><circle cx="1353.6" cy="1260.5" r="6.1" fill="#00f"/><circle cx="1300.6" cy="1261.8" r="6.1" fill="#00f"/><circle cx="1281.4" cy="1275.9" r="6.1" fill="#00f"/><circle cx="1316.0" cy="1274.0" r="6.1" fill="#00f"/><circle cx="1240.8" cy="1276.3" r="6.1" fill="#00f"/><circle cx="1081.2" cy="1284.4" r="6.1" fill="#00f"/><circle cx="1190.6" cy="1286.2" r="6.1" fill="#00f"/><circle cx="1103.2" cy="1296.6" r="6.1" fill="#00f"/><circle cx="1128.0" cy="1297.1" r="6.1" fill="#00f"/><circle cx="1137.4" cy="1305.6" r="6.1" fill="#00f"/><circle cx="1153.4" cy="1305.0" r="6.1" fill="#00f"/><circle cx="1225.0" cy="1297.1" r="6.1" fill="#00f"/><circle cx="1231.1" cy="1290.9" r="6.1" fill="#00f"/><circle cx="1247.0" cy="1297.5" r="6.1" fill="#00f"/><circle cx="1250.2" cy="1300.3" r="6.1" fill="#00f"/><circle cx="1275.2" cy="1293.4" r="6.1" fill="#00f"/><circle cx="1312.8" cy="1310.3" r="6.1" fill="#00f"/><circle cx="1181.6" cy="1312.6" r="6.1" fill="#00f"/><circle cx="1118.8" cy="1319.1" r="6.1" fill="#00f"/><circle cx="1156.4" cy="1324.8" r="6.1" fill="#00f"/><circle cx="1172.2" cy="1326.7" r="6.1" fill="#00f"/><circle cx="1253.0" cy="1318.2" r="6.1" fill="#00f"/><circle cx="1262.6" cy="1320.5" r="6.1" fill="#00f"/><circle cx="1078.2" cy="1328.0" r="6.1" fill="#00f"/><circle cx="1331.6" cy="1339.8" r="6.1" fill="#00f"/><circle cx="1325.0" cy="1343.6" r="6.1" fill="#00f"/><circle cx="1218.8" cy="1350.5" r="6.1" fill="#00f"/><circle cx="1203.4" cy="1356.2" r="6.1" fill="#00f"/><circle cx="1196.8" cy="1359.0" r="6.1" fill="#00f"/><circle cx="1297.4" cy="1357.3" r="6.1" fill="#00f"/><circle cx="1269.0" cy="1362.9" r="6.1" fill="#00f"/><circle cx="1109.2" cy="1363.9" r="6.1" fill="#00f"/><circle cx="1115.8" cy="1371.4" r="6.1" fill="#00f"/><circle cx="1131.4" cy="1370.5" r="6.1" fill="#00f"/><circle cx="1146.8" cy="1371.2" r="6.1" fill="#00f"/><circle cx="1150.2" cy="1372.7" r="6.1" fill="#00f"/><circle cx="1200.0" cy="1371.8" r="6.1" fill="#00f"/><circle cx="1350.4" cy="1388.1" r="6.1" fill="#00f"/><circle cx="1278.4" cy="1399.6" r="6.1" fill="#00f"/><circle cx="1134.6" cy="1410.1" r="6.1" fill="#00f"/><circle cx="1259.6" cy="1406.0" r="6.1" fill="#00f"/><circle cx="1243.8" cy="1431.4" r="6.1" fill="#00f"/><circle cx="1272.4" cy="1458.6" r="6.1" fill="#00f"/><circle cx="1165.8" cy="1536.2" r="6.1" fill="#00f"/><circle cx="1356.8" cy="1012.7" r="6.1" fill="#00f"/><circle cx="1360.0" cy="1034.0" r="6.1" fill="#00f"/><circle cx="1363.2" cy="1072.9" r="6.1" fill="#00f"/><circle cx="1388.2" cy="1081.0" r="6.1" fill="#00f"/><circle cx="1500.6" cy="1065.0" r="6.1" fill="#00f"/><circle cx="1497.6" cy="1074.0" r="6.1" fill="#00f"/><circle cx="1528.8" cy="1095.5" r="6.1" fill="#00f"/><circle cx="1632.2" cy="1089.1" r="6.1" fill="#00f"/><circle cx="1476.0" cy="1108.8" r="6.1" fill="#00f"/><circle cx="1403.8" cy="1122.9" r="6.1" fill="#00f"/><circle cx="1394.2" cy="1130.4" r="6.1" fill="#00f"/><circle cx="1444.2" cy="1128.9" r="6.1" fill="#00f"/><circle cx="1460.0" cy="1126.1" r="6.1" fill="#00f"/><circle cx="1481.8" cy="1133.2" r="6.1" fill="#00f"/><circle cx="1503.8" cy="1125.2" r="6.1" fill="#00f"/><circle cx="1507.0" cy="1124.2" r="6.1" fill="#00f"/><circle cx="1554.0" cy="1122.0" r="6.1" fill="#00f"/><circle cx="1544.6" cy="1137.0" r="6.1" fill="#00f"/><circle cx="1597.8" cy="1136.4" r="6.1" fill="#00f"/><circle cx="1638.6" cy="1148.6" r="6.1" fill="#00f"/><circle cx="1385.0" cy="1154.8" r="6.1" fill="#00f"/><circle cx="1409.8" cy="1154.3" r="6.1" fill="#00f"/><circle cx="1400.5" cy="1165.0" r="6.1" fill="#00f"/><circle cx="1472.4" cy="1150.5" r="6.1" fill="#00f"/><circle cx="1491.2" cy="1146.8" r="6.1" fill="#00f"/><circle cx="1456.8" cy="1164.1" r="6.1" fill="#00f"/><circle cx="1466.2" cy="1164.1" r="6.1" fill="#00f"/><circle cx="1494.8" cy="1171.8" r="6.1" fill="#00f"/><circle cx="1550.8" cy="1155.2" r="6.1" fill="#00f"/><circle cx="1557.4" cy="1157.5" r="6.1" fill="#00f"/><circle cx="1566.8" cy="1158.6" r="6.1" fill="#00f"/><circle cx="1616.6" cy="1162.4" r="6.1" fill="#00f"/><circle cx="1626.0" cy="1160.3" r="6.1" fill="#00f"/><circle cx="1629.8" cy="1158.4" r="6.1" fill="#00f"/><circle cx="1601.6" cy="1172.9" r="6.1" fill="#00f"/><circle cx="1608.2" cy="1172.5" r="6.1" fill="#00f"/><circle cx="1613.8" cy="1176.7" r="6.1" fill="#00f"/><circle cx="1382.0" cy="1184.4" r="6.1" fill="#00f"/><circle cx="1378.5" cy="1191.7" r="6.1" fill="#00f"/><circle cx="1397.3" cy="1186.6" r="6.1" fill="#00f"/><circle cx="1407.0" cy="1206.0" r="6.1" fill="#00f"/><circle cx="1453.6" cy="1177.8" r="6.1" fill="#00f"/><circle cx="1469.1" cy="1182.9" r="6.1" fill="#00f"/><circle cx="1441.2" cy="1196.0" r="6.1" fill="#00f"/><circle cx="1478.8" cy="1194.1" r="6.1" fill="#00f"/><circle cx="1485.0" cy="1187.2" r="6.1" fill="#00f"/><circle cx="1450.6" cy="1208.8" r="6.1" fill="#00f"/><circle cx="1463.0" cy="1212.4" r="6.1" fill="#00f"/><circle cx="1510.0" cy="1196.0" r="6.1" fill="#00f"/><circle cx="1517.0" cy="1193.2" r="6.1" fill="#00f"/><circle cx="1525.5" cy="1192.8" r="6.1" fill="#00f"/><circle cx="1538.6" cy="1192.8" r="6.1" fill="#00f"/><circle cx="1547.6" cy="1195.5" r="6.1" fill="#00f"/><circle cx="1569.6" cy="1185.3" r="6.1" fill="#00f"/><circle cx="1572.4" cy="1200.7" r="6.1" fill="#00f"/><circle cx="1595.0" cy="1203.5" r="6.1" fill="#00f"/><circle cx="1622.8" cy="1198.8" r="6.1" fill="#00f"/><circle cx="1619.8" cy="1204.5" r="6.1" fill="#00f"/><circle cx="1635.4" cy="1214.8" r="6.1" fill="#00f"/><circle cx="1582.2" cy="1218.9" r="6.1" fill="#00f"/><circle cx="1591.6" cy="1216.1" r="6.1" fill="#00f"/><circle cx="1610.0" cy="1220.8" r="6.1" fill="#00f"/><circle cx="1563.4" cy="1227.0" r="6.1" fill="#00f"/><circle cx="1560.2" cy="1238.9" r="6.1" fill="#00f"/><circle cx="1585.2" cy="1233.6" r="6.1" fill="#00f"/><circle cx="1519.4" cy="1223.6" r="6.1" fill="#00f"/><circle cx="1488.2" cy="1243.4" r="6.1" fill="#00f"/><circle cx="1532.4" cy="1258.0" r="6.1" fill="#00f"/><circle cx="1579.0" cy="1254.3" r="6.1" fill="#00f"/><circle cx="1431.8" cy="1219.5" r="6.1" fill="#00f"/><circle cx="1434.8" cy="1228.5" r="6.1" fill="#00f"/><circle cx="1438.0" cy="1236.4" r="6.1" fill="#00f"/><circle cx="1416.4" cy="1243.6" r="6.1" fill="#00f"/><circle cx="1422.4" cy="1242.4" r="6.1" fill="#00f"/><circle cx="1375.5" cy="1230.8" r="6.1" fill="#00f"/><circle cx="1372.6" cy="1254.3" r="6.1" fill="#00f"/><circle cx="1366.2" cy="1295.3" r="6.1" fill="#00f"/><circle cx="1419.2" cy="1305.0" r="6.1" fill="#00f"/><circle cx="1425.8" cy="1325.2" r="6.1" fill="#00f"/><circle cx="1447.4" cy="1329.1" r="6.1" fill="#00f"/><circle cx="1391.4" cy="1342.1" r="6.1" fill="#00f"/><circle cx="1522.6" cy="1285.3" r="6.1" fill="#00f"/><circle cx="1535.2" cy="1326.1" r="6.1" fill="#00f"/><circle cx="1575.8" cy="1341.1" r="6.1" fill="#00f"/><circle cx="1541.4" cy="1359.5" r="6.1" fill="#00f"/><circle cx="1588.4" cy="1393.4" r="6.1" fill="#00f"/><circle cx="1369.4" cy="1416.7" r="6.1" fill="#00f"/><circle cx="1413.2" cy="1439.4" r="6.1" fill="#00f"/><circle cx="1685.5" cy="1097.0" r="6.1" fill="#00f"/><circle cx="1682.3" cy="1107.7" r="6.1" fill="#00f"/><circle cx="1695.3" cy="1119.1" r="6.1" fill="#00f"/><circle cx="1748.1" cy="1106.9" r="6.1" fill="#00f"/><circle cx="1782.3" cy="1129.8" r="6.1" fill="#00f"/><circle cx="1691.7" cy="1144.9" r="6.1" fill="#00f"/><circle cx="1688.7" cy="1153.7" r="6.1" fill="#00f"/><circle cx="1842.1" cy="1138.3" r="6.1" fill="#00f"/><circle cx="1848.5" cy="1148.6" r="6.1" fill="#00f"/><circle cx="1826.5" cy="1151.5" r="6.1" fill="#00f"/><circle cx="1832.7" cy="1162.4" r="6.1" fill="#00f"/><circle cx="1673.3" cy="1169.7" r="6.1" fill="#00f"/><circle cx="1732.5" cy="1170.3" r="6.1" fill="#00f"/><circle cx="1666.7" cy="1181.5" r="6.1" fill="#00f"/><circle cx="1701.1" cy="1195.1" r="6.1" fill="#00f"/><circle cx="1735.7" cy="1194.5" r="6.1" fill="#00f"/><circle cx="1763.5" cy="1194.1" r="6.1" fill="#00f"/><circle cx="1776.3" cy="1185.7" r="6.1" fill="#00f"/><circle cx="1817.1" cy="1194.5" r="6.1" fill="#00f"/><circle cx="1829.7" cy="1202.0" r="6.1" fill="#00f"/><circle cx="1820.3" cy="1212.9" r="6.1" fill="#00f"/><circle cx="1788.9" cy="1216.1" r="6.1" fill="#00f"/><circle cx="1657.3" cy="1210.1" r="6.1" fill="#00f"/><circle cx="1660.5" cy="1208.6" r="6.1" fill="#00f"/><circle cx="1663.9" cy="1221.4" r="6.1" fill="#00f"/><circle cx="1669.9" cy="1221.0" r="6.1" fill="#00f"/><circle cx="1697.7" cy="1214.8" r="6.1" fill="#00f"/><circle cx="1704.3" cy="1220.5" r="6.1" fill="#00f"/><circle cx="1822.7" cy="1222.3" r="6.1" fill="#00f"/><circle cx="1844.4" cy="1217.6" r="6.1" fill="#00f"/><circle cx="1851.5" cy="1223.3" r="6.1" fill="#00f"/><circle cx="1835.9" cy="1233.6" r="6.1" fill="#00f"/><circle cx="1641.7" cy="1241.5" r="6.1" fill="#00f"/><circle cx="1676.1" cy="1253.9" r="6.1" fill="#00f"/><circle cx="1741.9" cy="1245.8" r="6.1" fill="#00f"/><circle cx="1754.5" cy="1244.3" r="6.1" fill="#00f"/><circle cx="1786.1" cy="1243.4" r="6.1" fill="#00f"/><circle cx="1723.7" cy="1251.5" r="6.1" fill="#00f"/><circle cx="1729.7" cy="1254.7" r="6.1" fill="#00f"/><circle cx="1739.1" cy="1256.2" r="6.1" fill="#00f"/><circle cx="1757.5" cy="1261.4" r="6.1" fill="#00f"/><circle cx="1769.2" cy="1258.0" r="6.1" fill="#00f"/><circle cx="1779.5" cy="1265.2" r="6.1" fill="#00f"/><circle cx="1801.1" cy="1263.3" r="6.1" fill="#00f"/><circle cx="1813.9" cy="1257.1" r="6.1" fill="#00f"/><circle cx="1810.9" cy="1265.2" r="6.1" fill="#00f"/><circle cx="1751.3" cy="1275.5" r="6.1" fill="#00f"/><circle cx="1707.5" cy="1279.7" r="6.1" fill="#00f"/><circle cx="1760.7" cy="1289.4" r="6.1" fill="#00f"/><circle cx="1645.1" cy="1293.4" r="6.1" fill="#00f"/><circle cx="1713.7" cy="1298.8" r="6.1" fill="#00f"/><circle cx="1795.1" cy="1306.4" r="6.1" fill="#00f"/><circle cx="1792.1" cy="1330.8" r="6.1" fill="#00f"/><circle cx="1745.1" cy="1362.0" r="6.1" fill="#00f"/><circle cx="1773.3" cy="1378.7" r="6.1" fill="#00f"/><circle cx="1798.3" cy="1368.6" r="6.1" fill="#00f"/><circle cx="1807.7" cy="1373.6" r="6.1" fill="#00f"/><circle cx="1804.5" cy="1387.7" r="6.1" fill="#00f"/><circle cx="1647.9" cy="1417.3" r="6.1" fill="#00f"/><path d="M257.9,1202.7 L265.9,1199.5 L273.9,1196.6 L281.9,1194.0 L289.9,1191.7 L298.0,1189.6 L306.0,1187.9 L314.0,1186.5 L322.0,1185.4 L330.0,1184.6 L338.0,1184.1 L346.0,1184.0 L354.0,1184.2 L362.0,1184.6 L370.0,1185.4 L378.1,1186.4 L386.1,1187.7 L394.1,1189.2 L402.1,1191.0 L410.1,1193.0 L418.1,1195.1 L426.1,1197.5 L434.1,1199.9 L442.1,1202.5 L450.1,1205.2 L458.2,1207.9 L466.2,1210.7 L474.2,1213.4 L482.2,1216.2 L490.2,1218.9 L498.2,1221.5 L506.2,1224.1 L514.2,1226.5 L522.2,1228.8 L530.2,1230.9 L538.3,1232.8 L546.3,1234.5 L554.3,1236.0 L562.3,1237.3 L570.3,1238.3 L578.3,1239.1 L586.3,1239.6 L594.3,1239.8 L602.3,1239.7 L610.3,1239.4 L618.4,1238.8 L626.4,1238.0 L634.4,1236.8 L642.4,1235.4 L650.4,1233.8 L658.4,1232.0 L666.4,1229.9 L674.4,1227.6 L682.4,1225.2 L690.4,1222.6 L698.5,1219.9 L706.5,1217.0 L714.5,1214.1 L722.5,1211.1 L730.5,1208.0 L738.5,1205.0 L746.5,1202.0 L754.5,1199.0 L762.5,1196.1 L770.5,1193.3 L778.6,1190.6 L786.6,1188.1 L794.6,1185.7 L802.6,1183.6 L810.6,1181.7 L818.6,1180.0 L826.6,1178.6 L834.6,1177.4 L842.6,1176.6 L850.6,1176.0 L858.7,1175.8 L866.7,1175.9 L874.7,1176.3 L882.7,1177.1 L890.7,1178.2 L898.7,1179.6 L906.7,1181.4 L914.7,1183.5 L922.7,1185.9 L930.7,1188.6 L938.8,1191.6 L946.8,1194.8 L954.8,1198.3 L962.8,1202.1 L970.8,1206.0 L978.8,1210.2 L986.8,1214.5 L994.8,1218.9 L1002.8,1223.5 L1010.8,1228.1 L1018.9,1232.7 L1026.9,1237.4 L1034.9,1242.1 L1042.9,1246.7 L1050.9,1251.3 L1058.9,1255.7 L1066.9,1260.0 L1074.9,1264.2 L1082.9,1268.1 L1090.9,1271.9 L1099.0,1275.4 L1107.0,1278.6 L1115.0,1281.5 L1123.0,1284.2 L1131.0,1286.5 L1139.0,1288.5 L1147.0,1290.1 L1155.0,1291.4 L1163.0,1292.3 L1171.0,1292.8 L1179.1,1293.0 L1187.1,1292.8 L1195.1,1292.2 L1203.1,1291.2 L1211.1,1289.8 L1219.1,1288.2 L1227.1,1286.1 L1235.1,1283.8 L1243.1,1281.1 L1251.1,1278.2 L1259.2,1275.0 L1267.2,1271.5 L1275.2,1267.8 L1283.2,1264.0 L1291.2,1259.9 L1299.2,1255.8 L1307.2,1251.5 L1315.2,1247.1 L1323.2,1242.7 L1331.2,1238.3 L1339.3,1233.8 L1347.3,1229.4 L1355.3,1225.1 L1363.3,1220.9 L1371.3,1216.8 L1379.3,1212.9 L1387.3,1209.1 L1395.3,1205.5 L1403.3,1202.2 L1411.3,1199.1 L1419.4,1196.2 L1427.4,1193.6 L1435.4,1191.3 L1443.4,1189.4 L1451.4,1187.7 L1459.4,1186.3 L1467.4,1185.2 L1475.4,1184.5 L1483.4,1184.1 L1491.4,1184.0 L1499.5,1184.2 L1507.5,1184.7 L1515.5,1185.5 L1523.5,1186.6 L1531.5,1187.9 L1539.5,1189.5 L1547.5,1191.3 L1555.5,1193.3 L1563.5,1195.5 L1571.5,1197.8 L1579.6,1200.3 L1587.6,1202.9 L1595.6,1205.6 L1603.6,1208.3 L1611.6,1211.1 L1619.6,1213.9 L1627.6,1216.6 L1635.6,1219.3 L1643.6,1221.9 L1651.6,1224.4 L1659.7,1226.8 L1667.7,1229.1 L1675.7,1231.2 L1683.7,1233.1 L1691.7,1234.8 L1699.7,1236.2 L1707.7,1237.4 L1715.7,1238.4 L1723.7,1239.2 L1731.7,1239.6 L1739.8,1239.8 L1747.8,1239.7 L1755.8,1239.3 L1763.8,1238.7 L1771.8,1237.8 L1779.8,1236.6 L1787.8,1235.2 L1795.8,1233.6 L1803.8,1231.7 L1811.8,1229.6 L1819.9,1227.3 L1827.9,1224.8 L1835.9,1222.2 L1843.9,1219.4 L1851.9,1216.6" fill="none" stroke="#f00" stroke-width="8.3" stroke-linejoin="round" stroke-linecap="butt"/></g>
<rect x="226.0" y="935.0" width="1657.5" height="638.0" fill="none" stroke="#000" stroke-width="5.9"/>
<path d="M323.8,932.0V924.8M323.8,1576.0V1583.2M438.2,932.0V924.8M438.2,1576.0V1583.2M552.7,932.0V924.8M552.7,1576.0V1583.2M667.1,932.0V924.8M667.1,1576.0V1583.2M781.5,932.0V916.0M781.5,1576.0V1592.0M895.9,932.0V924.8M895.9,1576.0V1583.2M1010.3,932.0V924.8M1010.3,1576.0V1583.2M1124.8,932.0V924.8M1124.8,1576.0V1583.2M1239.2,932.0V924.8M1239.2,1576.0V1583.2M1353.6,932.0V916.0M1353.6,1576.0V1592.0M1468.0,932.0V924.8M1468.0,1576.0V1583.2M1582.4,932.0V924.8M1582.4,1576.0V1583.2M1696.9,932.0V924.8M1696.9,1576.0V1583.2M1811.3,932.0V924.8M1811.3,1576.0V1583.2M223.1,1009.3H206.9M1886.5,1009.3H1902.7M223.1,1116.2H206.9M1886.5,1116.2H1902.7M223.1,1223.1H206.9M1886.5,1223.1H1902.7M223.1,1330.0H206.9M1886.5,1330.0H1902.7M223.1,1436.9H206.9M1886.5,1436.9H1902.7M223.1,1543.8H206.9M1886.5,1543.8H1902.7" stroke="#000" stroke-width="2.7" fill="none"/>
<text transform="translate(190.50,1026.00) scale(1,1.1)" font-size="42.6" font-weight="bold" text-anchor="end">4</text>
<text transform="translate(190.50,1132.90) scale(1,1.1)" font-size="42.6" font-weight="bold" text-anchor="end">2</text>
<text transform="translate(190.50,1239.80) scale(1,1.1)" font-size="42.6" font-weight="bold" text-anchor="end">0</text>
<text transform="translate(190.50,1346.70) scale(1,1.1)" font-size="42.6" font-weight="bold" text-anchor="end"><tspan dy="4.5">−</tspan><tspan dy="-4.5">2</tspan></text>
<text transform="translate(190.50,1453.60) scale(1,1.1)" font-size="42.6" font-weight="bold" text-anchor="end"><tspan dy="4.5">−</tspan><tspan dy="-4.5">4</tspan></text>
<text transform="translate(190.50,1560.50) scale(1,1.1)" font-size="42.6" font-weight="bold" text-anchor="end"><tspan dy="4.5">−</tspan><tspan dy="-4.5">6</tspan></text>
<text transform="translate(781.50,1639.60) scale(1,1.1)" font-size="42.6" font-weight="bold" text-anchor="middle">2025.0</text>
<text transform="translate(1353.60,1639.60) scale(1,1.1)" font-size="42.6" font-weight="bold" text-anchor="middle">2025.5</text>
<text transform="translate(114.00,1254.00) rotate(-90) scale(1,1.055)" font-size="42.3" text-anchor="middle">North (mm)</text>
<text transform="translate(1470.90,973.60) scale(1,1.11)" font-size="35.5" font-weight="bold">0.000+/- 1.251 mm/yr</text>
<g><circle cx="523.8" cy="1763.5" r="6.1" fill="#00f"/><circle cx="521.0" cy="1816.7" r="6.1" fill="#00f"/><circle cx="317.4" cy="1913.3" r="6.1" fill="#00f"/><circle cx="358.0" cy="1898.8" r="6.1" fill="#00f"/><circle cx="426.7" cy="1901.2" r="6.1" fill="#00f"/><circle cx="486.6" cy="1948.6" r="6.1" fill="#00f"/><circle cx="420.8" cy="1971.7" r="6.1" fill="#00f"/><circle cx="517.8" cy="1985.6" r="6.1" fill="#00f"/><circle cx="480.2" cy="1992.2" r="6.1" fill="#00f"/><circle cx="276.7" cy="2002.9" r="6.1" fill="#00f"/><circle cx="474.0" cy="2014.2" r="6.1" fill="#00f"/><circle cx="467.4" cy="2030.4" r="6.1" fill="#00f"/><circle cx="442.4" cy="2033.9" r="6.1" fill="#00f"/><circle cx="414.4" cy="2041.7" r="6.1" fill="#00f"/><circle cx="429.8" cy="2045.8" r="6.1" fill="#00f"/><circle cx="433.0" cy="2048.6" r="6.1" fill="#00f"/><circle cx="373.8" cy="2040.5" r="6.1" fill="#00f"/><circle cx="386.2" cy="2040.2" r="6.1" fill="#00f"/><circle cx="391.9" cy="2037.9" r="6.1" fill="#00f"/><circle cx="398.5" cy="2046.2" r="6.1" fill="#00f"/><circle cx="405.0" cy="2055.8" r="6.1" fill="#00f"/><circle cx="361.2" cy="2064.6" r="6.1" fill="#00f"/><circle cx="289.2" cy="2086.2" r="6.1" fill="#00f"/><circle cx="282.9" cy="2109.3" r="6.1" fill="#00f"/><circle cx="367.4" cy="2087.1" r="6.1" fill="#00f"/><circle cx="364.1" cy="2090.9" r="6.1" fill="#00f"/><circle cx="411.1" cy="2098.4" r="6.1" fill="#00f"/><circle cx="439.6" cy="2101.2" r="6.1" fill="#00f"/><circle cx="455.2" cy="2091.5" r="6.1" fill="#00f"/><circle cx="470.8" cy="2094.7" r="6.1" fill="#00f"/><circle cx="476.8" cy="2082.4" r="6.1" fill="#00f"/><circle cx="505.0" cy="2083.4" r="6.1" fill="#00f"/><circle cx="492.8" cy="2099.0" r="6.1" fill="#00f"/><circle cx="502.2" cy="2099.4" r="6.1" fill="#00f"/><circle cx="511.6" cy="2104.6" r="6.1" fill="#00f"/><circle cx="402.0" cy="2115.7" r="6.1" fill="#00f"/><circle cx="489.6" cy="2116.7" r="6.1" fill="#00f"/><circle cx="436.4" cy="2125.1" r="6.1" fill="#00f"/><circle cx="380.0" cy="2127.6" r="6.1" fill="#00f"/><circle cx="499.0" cy="2131.3" r="6.1" fill="#00f"/><circle cx="345.6" cy="2136.0" r="6.1" fill="#00f"/><circle cx="417.6" cy="2134.1" r="6.1" fill="#00f"/><circle cx="461.4" cy="2135.1" r="6.1" fill="#00f"/><circle cx="301.7" cy="2145.8" r="6.1" fill="#00f"/><circle cx="314.2" cy="2151.6" r="6.1" fill="#00f"/><circle cx="320.8" cy="2149.2" r="6.1" fill="#00f"/><circle cx="336.2" cy="2146.9" r="6.1" fill="#00f"/><circle cx="355.0" cy="2148.8" r="6.1" fill="#00f"/><circle cx="383.2" cy="2154.8" r="6.1" fill="#00f"/><circle cx="408.2" cy="2146.0" r="6.1" fill="#00f"/><circle cx="451.8" cy="2150.5" r="6.1" fill="#00f"/><circle cx="496.0" cy="2150.1" r="6.1" fill="#00f"/><circle cx="533.2" cy="2165.5" r="6.1" fill="#00f"/><circle cx="370.6" cy="2176.4" r="6.1" fill="#00f"/><circle cx="449.0" cy="2175.5" r="6.1" fill="#00f"/><circle cx="445.5" cy="2184.9" r="6.1" fill="#00f"/><circle cx="483.4" cy="2192.4" r="6.1" fill="#00f"/><circle cx="329.8" cy="2198.6" r="6.1" fill="#00f"/><circle cx="322.7" cy="2203.1" r="6.1" fill="#00f"/><circle cx="342.4" cy="2205.6" r="6.1" fill="#00f"/><circle cx="311.1" cy="2211.6" r="6.1" fill="#00f"/><circle cx="308.0" cy="2222.9" r="6.1" fill="#00f"/><circle cx="273.5" cy="2238.3" r="6.1" fill="#00f"/><circle cx="257.9" cy="2259.5" r="6.1" fill="#00f"/><circle cx="326.5" cy="2259.1" r="6.1" fill="#00f"/><circle cx="351.8" cy="2237.5" r="6.1" fill="#00f"/><circle cx="348.6" cy="2256.7" r="6.1" fill="#00f"/><circle cx="458.4" cy="2234.1" r="6.1" fill="#00f"/><circle cx="267.3" cy="2310.8" r="6.1" fill="#00f"/><circle cx="279.8" cy="2317.4" r="6.1" fill="#00f"/><circle cx="304.8" cy="2309.9" r="6.1" fill="#00f"/><circle cx="333.0" cy="2299.5" r="6.1" fill="#00f"/><circle cx="539.7" cy="2051.4" r="6.1" fill="#00f"/><circle cx="546.1" cy="2051.4" r="6.1" fill="#00f"/><circle cx="574.2" cy="2089.4" r="6.1" fill="#00f"/><circle cx="589.8" cy="2123.8" r="6.1" fill="#00f"/><circle cx="552.3" cy="2140.2" r="6.1" fill="#00f"/><circle cx="583.3" cy="2178.9" r="6.1" fill="#00f"/><circle cx="636.8" cy="2175.5" r="6.1" fill="#00f"/><circle cx="549.1" cy="2193.9" r="6.1" fill="#00f"/><circle cx="571.1" cy="2198.4" r="6.1" fill="#00f"/><circle cx="633.6" cy="2209.7" r="6.1" fill="#00f"/><circle cx="561.7" cy="2213.1" r="6.1" fill="#00f"/><circle cx="568.2" cy="2215.0" r="6.1" fill="#00f"/><circle cx="608.6" cy="2215.0" r="6.1" fill="#00f"/><circle cx="602.4" cy="2233.2" r="6.1" fill="#00f"/><circle cx="621.2" cy="2242.6" r="6.1" fill="#00f"/><circle cx="555.5" cy="2254.8" r="6.1" fill="#00f"/><circle cx="605.5" cy="2302.4" r="6.1" fill="#00f"/><circle cx="617.7" cy="2320.6" r="6.1" fill="#00f"/><circle cx="1297.4" cy="2012.9" r="6.1" fill="#00f"/><circle cx="1253.2" cy="2075.5" r="6.1" fill="#00f"/><circle cx="1353.6" cy="2070.2" r="6.1" fill="#00f"/><circle cx="1322.6" cy="2139.4" r="6.1" fill="#00f"/><circle cx="1331.6" cy="2149.2" r="6.1" fill="#00f"/><circle cx="1328.8" cy="2153.9" r="6.1" fill="#00f"/><circle cx="1169.0" cy="2147.3" r="6.1" fill="#00f"/><circle cx="1172.2" cy="2150.5" r="6.1" fill="#00f"/><circle cx="1078.2" cy="2160.5" r="6.1" fill="#00f"/><circle cx="1068.5" cy="2174.5" r="6.1" fill="#00f"/><circle cx="1115.5" cy="2161.0" r="6.1" fill="#00f"/><circle cx="1125.2" cy="2171.4" r="6.1" fill="#00f"/><circle cx="1122.0" cy="2184.3" r="6.1" fill="#00f"/><circle cx="1266.2" cy="2164.2" r="6.1" fill="#00f"/><circle cx="1193.8" cy="2182.1" r="6.1" fill="#00f"/><circle cx="1203.2" cy="2187.1" r="6.1" fill="#00f"/><circle cx="1191.0" cy="2191.5" r="6.1" fill="#00f"/><circle cx="1222.0" cy="2180.6" r="6.1" fill="#00f"/><circle cx="1228.2" cy="2187.7" r="6.1" fill="#00f"/><circle cx="1231.4" cy="2196.2" r="6.1" fill="#00f"/><circle cx="1218.8" cy="2201.8" r="6.1" fill="#00f"/><circle cx="1287.4" cy="2184.9" r="6.1" fill="#00f"/><circle cx="1281.4" cy="2193.3" r="6.1" fill="#00f"/><circle cx="1291.2" cy="2199.0" r="6.1" fill="#00f"/><circle cx="1312.8" cy="2187.7" r="6.1" fill="#00f"/><circle cx="1259.6" cy="2199.4" r="6.1" fill="#00f"/><circle cx="1128.0" cy="2203.7" r="6.1" fill="#00f"/><circle cx="1097.0" cy="2205.6" r="6.1" fill="#00f"/><circle cx="1347.2" cy="2200.3" r="6.1" fill="#00f"/><circle cx="1350.4" cy="2209.7" r="6.1" fill="#00f"/><circle cx="1112.3" cy="2217.2" r="6.1" fill="#00f"/><circle cx="1165.8" cy="2213.5" r="6.1" fill="#00f"/><circle cx="1216.0" cy="2211.6" r="6.1" fill="#00f"/><circle cx="1209.4" cy="2222.9" r="6.1" fill="#00f"/><circle cx="1250.8" cy="2215.3" r="6.1" fill="#00f"/><circle cx="1275.2" cy="2215.3" r="6.1" fill="#00f"/><circle cx="1325.0" cy="2214.0" r="6.1" fill="#00f"/><circle cx="1334.8" cy="2214.0" r="6.1" fill="#00f"/><circle cx="1081.2" cy="2228.5" r="6.1" fill="#00f"/><circle cx="1137.4" cy="2228.5" r="6.1" fill="#00f"/><circle cx="1174.7" cy="2228.5" r="6.1" fill="#00f"/><circle cx="1184.1" cy="2231.3" r="6.1" fill="#00f"/><circle cx="1234.4" cy="2225.3" r="6.1" fill="#00f"/><circle cx="1241.4" cy="2224.7" r="6.1" fill="#00f"/><circle cx="1294.0" cy="2224.4" r="6.1" fill="#00f"/><circle cx="1310.0" cy="2222.9" r="6.1" fill="#00f"/><circle cx="1344.2" cy="2233.2" r="6.1" fill="#00f"/><circle cx="1109.4" cy="2237.5" r="6.1" fill="#00f"/><circle cx="1144.0" cy="2243.9" r="6.1" fill="#00f"/><circle cx="1206.6" cy="2239.2" r="6.1" fill="#00f"/><circle cx="1243.3" cy="2236.6" r="6.1" fill="#00f"/><circle cx="1248.9" cy="2237.0" r="6.1" fill="#00f"/><circle cx="1262.4" cy="2237.3" r="6.1" fill="#00f"/><circle cx="1303.4" cy="2235.1" r="6.1" fill="#00f"/><circle cx="1306.6" cy="2235.6" r="6.1" fill="#00f"/><circle cx="1087.3" cy="2251.1" r="6.1" fill="#00f"/><circle cx="1091.0" cy="2249.2" r="6.1" fill="#00f"/><circle cx="1103.2" cy="2257.1" r="6.1" fill="#00f"/><circle cx="1181.2" cy="2246.7" r="6.1" fill="#00f"/><circle cx="1178.0" cy="2255.8" r="6.1" fill="#00f"/><circle cx="1212.8" cy="2259.9" r="6.1" fill="#00f"/><circle cx="1237.6" cy="2251.4" r="6.1" fill="#00f"/><circle cx="1278.4" cy="2251.1" r="6.1" fill="#00f"/><circle cx="1284.6" cy="2251.6" r="6.1" fill="#00f"/><circle cx="1071.7" cy="2271.7" r="6.1" fill="#00f"/><circle cx="1075.0" cy="2279.2" r="6.1" fill="#00f"/><circle cx="1093.8" cy="2267.0" r="6.1" fill="#00f"/><circle cx="1099.8" cy="2274.2" r="6.1" fill="#00f"/><circle cx="1146.8" cy="2273.2" r="6.1" fill="#00f"/><circle cx="1131.4" cy="2282.1" r="6.1" fill="#00f"/><circle cx="1118.8" cy="2293.3" r="6.1" fill="#00f"/><circle cx="1200.0" cy="2278.7" r="6.1" fill="#00f"/><circle cx="1197.2" cy="2289.6" r="6.1" fill="#00f"/><circle cx="1187.4" cy="2296.5" r="6.1" fill="#00f"/><circle cx="1153.4" cy="2305.0" r="6.1" fill="#00f"/><circle cx="1162.4" cy="2309.3" r="6.1" fill="#00f"/><circle cx="1159.6" cy="2317.2" r="6.1" fill="#00f"/><circle cx="1272.0" cy="2291.1" r="6.1" fill="#00f"/><circle cx="1300.6" cy="2283.0" r="6.1" fill="#00f"/><circle cx="1316.0" cy="2290.9" r="6.1" fill="#00f"/><circle cx="1256.8" cy="2308.4" r="6.1" fill="#00f"/><circle cx="1319.4" cy="2309.7" r="6.1" fill="#00f"/><circle cx="1269.0" cy="2321.9" r="6.1" fill="#00f"/><circle cx="1134.6" cy="2336.6" r="6.1" fill="#00f"/><circle cx="1150.2" cy="2376.1" r="6.1" fill="#00f"/><circle cx="1409.8" cy="2008.6" r="6.1" fill="#00f"/><circle cx="1425.5" cy="2021.4" r="6.1" fill="#00f"/><circle cx="1469.4" cy="2012.3" r="6.1" fill="#00f"/><circle cx="1416.4" cy="2038.6" r="6.1" fill="#00f"/><circle cx="1372.6" cy="2052.0" r="6.1" fill="#00f"/><circle cx="1391.1" cy="2050.5" r="6.1" fill="#00f"/><circle cx="1407.0" cy="2056.7" r="6.1" fill="#00f"/><circle cx="1431.8" cy="2061.2" r="6.1" fill="#00f"/><circle cx="1456.8" cy="2059.5" r="6.1" fill="#00f"/><circle cx="1384.8" cy="2081.5" r="6.1" fill="#00f"/><circle cx="1375.5" cy="2098.0" r="6.1" fill="#00f"/><circle cx="1435.2" cy="2098.0" r="6.1" fill="#00f"/><circle cx="1382.0" cy="2111.0" r="6.1" fill="#00f"/><circle cx="1403.8" cy="2113.5" r="6.1" fill="#00f"/><circle cx="1363.2" cy="2126.6" r="6.1" fill="#00f"/><circle cx="1472.4" cy="2105.9" r="6.1" fill="#00f"/><circle cx="1444.2" cy="2117.6" r="6.1" fill="#00f"/><circle cx="1466.2" cy="2118.2" r="6.1" fill="#00f"/><circle cx="1485.0" cy="2074.5" r="6.1" fill="#00f"/><circle cx="1507.0" cy="2030.4" r="6.1" fill="#00f"/><circle cx="1519.4" cy="2042.6" r="6.1" fill="#00f"/><circle cx="1516.4" cy="2049.2" r="6.1" fill="#00f"/><circle cx="1503.8" cy="2051.4" r="6.1" fill="#00f"/><circle cx="1500.6" cy="2061.4" r="6.1" fill="#00f"/><circle cx="1538.2" cy="2041.7" r="6.1" fill="#00f"/><circle cx="1544.6" cy="2060.8" r="6.1" fill="#00f"/><circle cx="1535.2" cy="2070.2" r="6.1" fill="#00f"/><circle cx="1528.8" cy="2072.5" r="6.1" fill="#00f"/><circle cx="1525.8" cy="2082.8" r="6.1" fill="#00f"/><circle cx="1510.0" cy="2083.8" r="6.1" fill="#00f"/><circle cx="1566.4" cy="2066.5" r="6.1" fill="#00f"/><circle cx="1610.4" cy="2025.7" r="6.1" fill="#00f"/><circle cx="1597.8" cy="2086.6" r="6.1" fill="#00f"/><circle cx="1607.2" cy="2095.0" r="6.1" fill="#00f"/><circle cx="1541.4" cy="2091.5" r="6.1" fill="#00f"/><circle cx="1532.0" cy="2099.7" r="6.1" fill="#00f"/><circle cx="1548.0" cy="2105.6" r="6.1" fill="#00f"/><circle cx="1554.0" cy="2109.3" r="6.1" fill="#00f"/><circle cx="1560.2" cy="2107.8" r="6.1" fill="#00f"/><circle cx="1619.8" cy="2111.0" r="6.1" fill="#00f"/><circle cx="1613.4" cy="2123.8" r="6.1" fill="#00f"/><circle cx="1622.8" cy="2126.6" r="6.1" fill="#00f"/><circle cx="1629.2" cy="2136.4" r="6.1" fill="#00f"/><circle cx="1419.2" cy="2129.4" r="6.1" fill="#00f"/><circle cx="1422.4" cy="2134.1" r="6.1" fill="#00f"/><circle cx="1513.2" cy="2120.0" r="6.1" fill="#00f"/><circle cx="1522.6" cy="2127.9" r="6.1" fill="#00f"/><circle cx="1481.8" cy="2130.4" r="6.1" fill="#00f"/><circle cx="1494.8" cy="2127.9" r="6.1" fill="#00f"/><circle cx="1463.0" cy="2133.2" r="6.1" fill="#00f"/><circle cx="1400.5" cy="2145.0" r="6.1" fill="#00f"/><circle cx="1394.8" cy="2148.2" r="6.1" fill="#00f"/><circle cx="1450.6" cy="2142.0" r="6.1" fill="#00f"/><circle cx="1460.0" cy="2148.2" r="6.1" fill="#00f"/><circle cx="1475.6" cy="2140.7" r="6.1" fill="#00f"/><circle cx="1388.2" cy="2161.4" r="6.1" fill="#00f"/><circle cx="1438.0" cy="2156.7" r="6.1" fill="#00f"/><circle cx="1441.2" cy="2168.9" r="6.1" fill="#00f"/><circle cx="1447.4" cy="2166.1" r="6.1" fill="#00f"/><circle cx="1563.4" cy="2151.4" r="6.1" fill="#00f"/><circle cx="1575.8" cy="2148.6" r="6.1" fill="#00f"/><circle cx="1585.6" cy="2142.0" r="6.1" fill="#00f"/><circle cx="1588.4" cy="2146.0" r="6.1" fill="#00f"/><circle cx="1594.6" cy="2140.3" r="6.1" fill="#00f"/><circle cx="1601.0" cy="2161.4" r="6.1" fill="#00f"/><circle cx="1626.0" cy="2168.5" r="6.1" fill="#00f"/><circle cx="1640.1" cy="2150.1" r="6.1" fill="#00f"/><circle cx="1378.5" cy="2179.2" r="6.1" fill="#00f"/><circle cx="1369.4" cy="2194.3" r="6.1" fill="#00f"/><circle cx="1366.2" cy="2199.9" r="6.1" fill="#00f"/><circle cx="1413.0" cy="2199.0" r="6.1" fill="#00f"/><circle cx="1491.2" cy="2184.3" r="6.1" fill="#00f"/><circle cx="1478.8" cy="2191.5" r="6.1" fill="#00f"/><circle cx="1557.0" cy="2184.3" r="6.1" fill="#00f"/><circle cx="1569.6" cy="2171.2" r="6.1" fill="#00f"/><circle cx="1579.0" cy="2171.7" r="6.1" fill="#00f"/><circle cx="1582.2" cy="2180.2" r="6.1" fill="#00f"/><circle cx="1591.6" cy="2188.1" r="6.1" fill="#00f"/><circle cx="1550.8" cy="2200.3" r="6.1" fill="#00f"/><circle cx="1604.0" cy="2197.7" r="6.1" fill="#00f"/><circle cx="1638.2" cy="2198.4" r="6.1" fill="#00f"/><circle cx="1394.2" cy="2231.3" r="6.1" fill="#00f"/><circle cx="1356.7" cy="2260.5" r="6.1" fill="#00f"/><circle cx="1360.0" cy="2271.7" r="6.1" fill="#00f"/><circle cx="1454.0" cy="2248.6" r="6.1" fill="#00f"/><circle cx="1497.8" cy="2224.7" r="6.1" fill="#00f"/><circle cx="1488.2" cy="2288.3" r="6.1" fill="#00f"/><circle cx="1572.8" cy="2271.7" r="6.1" fill="#00f"/><circle cx="1632.2" cy="2227.0" r="6.1" fill="#00f"/><circle cx="1635.4" cy="2253.5" r="6.1" fill="#00f"/><circle cx="1644.2" cy="2106.3" r="6.1" fill="#00f"/><circle cx="1648.5" cy="2107.8" r="6.1" fill="#00f"/><circle cx="1663.5" cy="2154.2" r="6.1" fill="#00f"/><circle cx="1657.3" cy="2181.5" r="6.1" fill="#00f"/><circle cx="1673.3" cy="2201.2" r="6.1" fill="#00f"/><circle cx="1666.7" cy="2209.7" r="6.1" fill="#00f"/><circle cx="1698.1" cy="2212.1" r="6.1" fill="#00f"/><circle cx="1676.1" cy="2122.9" r="6.1" fill="#00f"/><circle cx="1688.7" cy="2127.2" r="6.1" fill="#00f"/><circle cx="1682.1" cy="2158.2" r="6.1" fill="#00f"/><circle cx="1691.7" cy="2160.1" r="6.1" fill="#00f"/><circle cx="1685.5" cy="2178.3" r="6.1" fill="#00f"/><circle cx="1704.3" cy="2115.0" r="6.1" fill="#00f"/><circle cx="1707.5" cy="2060.3" r="6.1" fill="#00f"/><circle cx="1729.3" cy="2066.5" r="6.1" fill="#00f"/><circle cx="1723.1" cy="2077.4" r="6.1" fill="#00f"/><circle cx="1754.5" cy="2022.3" r="6.1" fill="#00f"/><circle cx="1763.9" cy="2077.4" r="6.1" fill="#00f"/><circle cx="1795.1" cy="2035.1" r="6.1" fill="#00f"/><circle cx="1807.7" cy="2046.2" r="6.1" fill="#00f"/><circle cx="1713.7" cy="2161.4" r="6.1" fill="#00f"/><circle cx="1741.9" cy="2139.2" r="6.1" fill="#00f"/><circle cx="1751.3" cy="2155.2" r="6.1" fill="#00f"/><circle cx="1738.7" cy="2172.1" r="6.1" fill="#00f"/><circle cx="1745.1" cy="2188.1" r="6.1" fill="#00f"/><circle cx="1757.5" cy="2193.3" r="6.1" fill="#00f"/><circle cx="1760.7" cy="2206.5" r="6.1" fill="#00f"/><circle cx="1770.1" cy="2209.7" r="6.1" fill="#00f"/><circle cx="1766.9" cy="2171.7" r="6.1" fill="#00f"/><circle cx="1785.7" cy="2100.7" r="6.1" fill="#00f"/><circle cx="1792.1" cy="2112.5" r="6.1" fill="#00f"/><circle cx="1776.3" cy="2121.4" r="6.1" fill="#00f"/><circle cx="1782.3" cy="2121.0" r="6.1" fill="#00f"/><circle cx="1798.3" cy="2124.2" r="6.1" fill="#00f"/><circle cx="1804.5" cy="2130.4" r="6.1" fill="#00f"/><circle cx="1810.9" cy="2119.1" r="6.1" fill="#00f"/><circle cx="1814.3" cy="2134.5" r="6.1" fill="#00f"/><circle cx="1788.9" cy="2154.4" r="6.1" fill="#00f"/><circle cx="1801.5" cy="2152.0" r="6.1" fill="#00f"/><circle cx="1817.1" cy="2155.4" r="6.1" fill="#00f"/><circle cx="1826.5" cy="2156.1" r="6.1" fill="#00f"/><circle cx="1829.7" cy="2141.3" r="6.1" fill="#00f"/><circle cx="1839.1" cy="2093.3" r="6.1" fill="#00f"/><circle cx="1835.9" cy="2113.1" r="6.1" fill="#00f"/><circle cx="1848.5" cy="2146.9" r="6.1" fill="#00f"/><circle cx="1842.1" cy="2165.2" r="6.1" fill="#00f"/><circle cx="1851.9" cy="2163.3" r="6.1" fill="#00f"/><circle cx="1832.7" cy="2187.3" r="6.1" fill="#00f"/><circle cx="1820.3" cy="2205.0" r="6.1" fill="#00f"/><circle cx="1823.3" cy="2208.4" r="6.1" fill="#00f"/><circle cx="1772.9" cy="2217.8" r="6.1" fill="#00f"/><circle cx="1748.1" cy="2219.7" r="6.1" fill="#00f"/><circle cx="1694.9" cy="2226.6" r="6.1" fill="#00f"/><circle cx="1701.5" cy="2227.2" r="6.1" fill="#00f"/><circle cx="1660.5" cy="2227.9" r="6.1" fill="#00f"/><circle cx="1732.5" cy="2228.5" r="6.1" fill="#00f"/><circle cx="1735.7" cy="2225.3" r="6.1" fill="#00f"/><circle cx="1779.5" cy="2232.3" r="6.1" fill="#00f"/><circle cx="1669.9" cy="2264.2" r="6.1" fill="#00f"/><circle cx="1845.3" cy="2275.9" r="6.1" fill="#00f"/><path d="M257.9,2150.8 L265.9,2148.0 L273.9,2145.4 L281.9,2142.9 L289.9,2140.5 L298.0,2138.3 L306.0,2136.3 L314.0,2134.5 L322.0,2132.8 L330.0,2131.4 L338.0,2130.2 L346.0,2129.2 L354.0,2128.3 L362.0,2127.7 L370.0,2127.3 L378.1,2127.1 L386.1,2127.1 L394.1,2127.2 L402.1,2127.6 L410.1,2128.1 L418.1,2128.8 L426.1,2129.7 L434.1,2130.7 L442.1,2131.8 L450.1,2133.1 L458.2,2134.4 L466.2,2135.9 L474.2,2137.4 L482.2,2139.0 L490.2,2140.7 L498.2,2142.4 L506.2,2144.1 L514.2,2145.8 L522.2,2147.5 L530.2,2149.2 L538.3,2150.8 L546.3,2152.4 L554.3,2154.0 L562.3,2155.5 L570.3,2156.9 L578.3,2158.2 L586.3,2159.4 L594.3,2160.5 L602.3,2161.5 L610.3,2162.4 L618.4,2163.2 L626.4,2163.8 L634.4,2164.4 L642.4,2164.8 L650.4,2165.1 L658.4,2165.3 L666.4,2165.3 L674.4,2165.3 L682.4,2165.1 L690.4,2164.9 L698.5,2164.6 L706.5,2164.2 L714.5,2163.7 L722.5,2163.2 L730.5,2162.6 L738.5,2162.0 L746.5,2161.4 L754.5,2160.7 L762.5,2160.1 L770.5,2159.5 L778.6,2158.9 L786.6,2158.3 L794.6,2157.8 L802.6,2157.4 L810.6,2157.0 L818.6,2156.7 L826.6,2156.6 L834.6,2156.5 L842.6,2156.5 L850.6,2156.7 L858.7,2157.0 L866.7,2157.4 L874.7,2158.0 L882.7,2158.7 L890.7,2159.6 L898.7,2160.6 L906.7,2161.7 L914.7,2163.0 L922.7,2164.4 L930.7,2166.0 L938.8,2167.7 L946.8,2169.5 L954.8,2171.5 L962.8,2173.5 L970.8,2175.7 L978.8,2177.9 L986.8,2180.2 L994.8,2182.5 L1002.8,2185.0 L1010.8,2187.4 L1018.9,2189.9 L1026.9,2192.3 L1034.9,2194.8 L1042.9,2197.2 L1050.9,2199.6 L1058.9,2201.9 L1066.9,2204.1 L1074.9,2206.2 L1082.9,2208.3 L1090.9,2210.2 L1099.0,2211.9 L1107.0,2213.6 L1115.0,2215.0 L1123.0,2216.3 L1131.0,2217.4 L1139.0,2218.3 L1147.0,2219.0 L1155.0,2219.5 L1163.0,2219.7 L1171.0,2219.8 L1179.1,2219.6 L1187.1,2219.2 L1195.1,2218.6 L1203.1,2217.7 L1211.1,2216.6 L1219.1,2215.3 L1227.1,2213.8 L1235.1,2212.0 L1243.1,2210.1 L1251.1,2208.0 L1259.2,2205.7 L1267.2,2203.2 L1275.2,2200.6 L1283.2,2197.8 L1291.2,2194.9 L1299.2,2191.9 L1307.2,2188.8 L1315.2,2185.6 L1323.2,2182.4 L1331.2,2179.1 L1339.3,2175.8 L1347.3,2172.4 L1355.3,2169.1 L1363.3,2165.8 L1371.3,2162.6 L1379.3,2159.4 L1387.3,2156.3 L1395.3,2153.3 L1403.3,2150.4 L1411.3,2147.6 L1419.4,2145.0 L1427.4,2142.5 L1435.4,2140.1 L1443.4,2138.0 L1451.4,2136.0 L1459.4,2134.2 L1467.4,2132.6 L1475.4,2131.2 L1483.4,2130.0 L1491.4,2129.0 L1499.5,2128.2 L1507.5,2127.6 L1515.5,2127.3 L1523.5,2127.1 L1531.5,2127.1 L1539.5,2127.3 L1547.5,2127.7 L1555.5,2128.2 L1563.5,2129.0 L1571.5,2129.8 L1579.6,2130.9 L1587.6,2132.0 L1595.6,2133.3 L1603.6,2134.7 L1611.6,2136.1 L1619.6,2137.7 L1627.6,2139.3 L1635.6,2140.9 L1643.6,2142.6 L1651.6,2144.3 L1659.7,2146.0 L1667.7,2147.7 L1675.7,2149.4 L1683.7,2151.1 L1691.7,2152.7 L1699.7,2154.2 L1707.7,2155.7 L1715.7,2157.1 L1723.7,2158.4 L1731.7,2159.6 L1739.8,2160.7 L1747.8,2161.7 L1755.8,2162.5 L1763.8,2163.3 L1771.8,2163.9 L1779.8,2164.4 L1787.8,2164.8 L1795.8,2165.1 L1803.8,2165.3 L1811.8,2165.3 L1819.9,2165.3 L1827.9,2165.1 L1835.9,2164.9 L1843.9,2164.5 L1851.9,2164.1" fill="none" stroke="#f00" stroke-width="8.3" stroke-linejoin="round" stroke-linecap="butt"/></g>
<rect x="226.0" y="1751.0" width="1657.5" height="638.0" fill="none" stroke="#000" stroke-width="5.9"/>
<path d="M323.8,1748.0V1740.8M323.8,2391.9V2399.1M438.2,1748.0V1740.8M438.2,2391.9V2399.1M552.7,1748.0V1740.8M552.7,2391.9V2399.1M667.1,1748.0V1740.8M667.1,2391.9V2399.1M781.5,1748.0V1732.0M781.5,2391.9V2407.9M895.9,1748.0V1740.8M895.9,2391.9V2399.1M1010.3,1748.0V1740.8M1010.3,2391.9V2399.1M1124.8,1748.0V1740.8M1124.8,2391.9V2399.1M1239.2,1748.0V1740.8M1239.2,2391.9V2399.1M1353.6,1748.0V1732.0M1353.6,2391.9V2407.9M1468.0,1748.0V1740.8M1468.0,2391.9V2399.1M1582.4,1748.0V1740.8M1582.4,2391.9V2399.1M1696.9,1748.0V1740.8M1696.9,2391.9V2399.1M1811.3,1748.0V1740.8M1811.3,2391.9V2399.1M223.1,1774.9H206.9M1886.5,1774.9H1902.7M223.1,1903.7H206.9M1886.5,1903.7H1902.7M223.1,2032.5H206.9M1886.5,2032.5H1902.7M223.1,2161.3H206.9M1886.5,2161.3H1902.7M223.1,2290.1H206.9M1886.5,2290.1H1902.7" stroke="#000" stroke-width="2.7" fill="none"/>
<text transform="translate(190.50,1791.60) scale(1,1.1)" font-size="42.6" font-weight="bold" text-anchor="end">30</text>
<text transform="translate(190.50,1920.40) scale(1,1.1)" font-size="42.6" font-weight="bold" text-anchor="end">20</text>
<text transform="translate(190.50,2049.20) scale(1,1.1)" font-size="42.6" font-weight="bold" text-anchor="end">10</text>
<text transform="translate(190.50,2178.00) scale(1,1.1)" font-size="42.6" font-weight="bold" text-anchor="end">0</text>
<text transform="translate(190.50,2306.80) scale(1,1.1)" font-size="42.6" font-weight="bold" text-anchor="end"><tspan dy="4.5">−</tspan><tspan dy="-4.5">10</tspan></text>
<text transform="translate(781.50,2455.60) scale(1,1.1)" font-size="42.6" font-weight="bold" text-anchor="middle">2025.0</text>
<text transform="translate(1353.60,2455.60) scale(1,1.1)" font-size="42.6" font-weight="bold" text-anchor="middle">2025.5</text>
<text transform="translate(90.50,2070.00) rotate(-90) scale(1,1.055)" font-size="42.3" text-anchor="middle">Up (mm)</text>
<text transform="translate(1470.90,1789.60) scale(1,1.11)" font-size="35.5" font-weight="bold">0.000+/- 3.751 mm/yr</text>
<text transform="translate(1054.75,2514.00) scale(1,1.055)" font-size="42.4" text-anchor="middle">Time (year)</text>
<rect x="226.0" y="2618.0" width="1657.5" height="153.0" fill="none" stroke="#000" stroke-width="5.6"/>
<text transform="translate(1054.75,2667.00) scale(1,1.07)" font-size="35.5" font-weight="bold" text-anchor="middle">24 Hour Positions Using Final Orbits (blue) and Rapid Orbits (magenta).</text>
<text transform="translate(1054.75,2707.40) scale(1,1.07)" font-size="35.5" font-weight="bold" text-anchor="middle">Processed by the Nevada Geodetic Laboratory.</text>
<text transform="translate(1054.75,2747.80) scale(1,1.07)" font-size="35.5" font-weight="bold" text-anchor="middle">Plotted on 2026-Jan-27. Last data on 2025-Dec-08.</text>
</svg></body></html>
